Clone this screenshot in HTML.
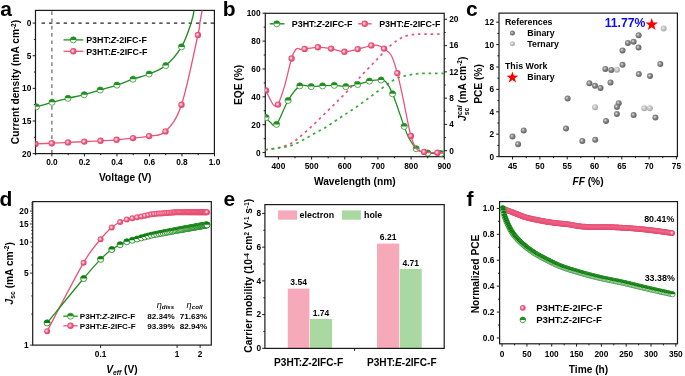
<!DOCTYPE html><html><head><meta charset="utf-8"><style>html,body{margin:0;padding:0;background:#fff;overflow:hidden}svg{display:block;will-change:transform}text{font-family:"Liberation Sans", sans-serif}</style></head><body>
<svg width="685" height="376" viewBox="0 0 685 376">
<defs><radialGradient id="pg" cx="0.42" cy="0.45" r="0.55"><stop offset="0" stop-color="#fff0f4"/><stop offset="0.25" stop-color="#f6b3c4"/><stop offset="0.6" stop-color="#ea5479"/><stop offset="1" stop-color="#e6486f"/></radialGradient><radialGradient id="gd" cx="0.4" cy="0.4" r="0.62"><stop offset="0" stop-color="#e6e6e6"/><stop offset="0.4" stop-color="#8c8c8c"/><stop offset="1" stop-color="#5e5e5e"/></radialGradient><radialGradient id="gl" cx="0.4" cy="0.4" r="0.62"><stop offset="0" stop-color="#f0f0f0"/><stop offset="0.45" stop-color="#c6c6c6"/><stop offset="1" stop-color="#a8a8a8"/></radialGradient></defs>
<rect width="685" height="376" fill="#fff"/>
<text x="0.3" y="16" font-size="21" text-anchor="start" font-weight="bold" fill="#000">a</text>
<text x="222.8" y="15.7" font-size="21" text-anchor="start" font-weight="bold" fill="#000">b</text>
<text x="466" y="16.3" font-size="21" text-anchor="start" font-weight="bold" fill="#000">c</text>
<text x="-0.6" y="205.7" font-size="21" text-anchor="start" font-weight="bold" fill="#000">d</text>
<text x="223.6" y="206" font-size="21" text-anchor="start" font-weight="bold" fill="#000">e</text>
<text x="466.4" y="205.7" font-size="21" text-anchor="start" font-weight="bold" fill="#000">f</text>
<line x1="41.6" y1="23.1" x2="214.4" y2="23.1" stroke="#222" stroke-width="1.15" stroke-dasharray="3.4,3.95" stroke-linecap="butt"/>
<line x1="51.9" y1="11.2" x2="51.9" y2="153.6" stroke="#666" stroke-width="1.2" stroke-dasharray="3.7,3.6" stroke-linecap="butt"/>
<line x1="32.7" y1="23.1" x2="35.5" y2="23.1" stroke="#1a1a1a" stroke-width="1.0" stroke-linecap="butt"/>
<text x="31.3" y="26" font-size="8.3" text-anchor="end" font-weight="bold" fill="#000">0</text>
<line x1="33.9" y1="39.41" x2="35.5" y2="39.41" stroke="#1a1a1a" stroke-width="1.0" stroke-linecap="butt"/>
<line x1="32.7" y1="55.73" x2="35.5" y2="55.73" stroke="#1a1a1a" stroke-width="1.0" stroke-linecap="butt"/>
<text x="31.3" y="58.62" font-size="8.3" text-anchor="end" font-weight="bold" fill="#000">5</text>
<line x1="33.9" y1="72.04" x2="35.5" y2="72.04" stroke="#1a1a1a" stroke-width="1.0" stroke-linecap="butt"/>
<line x1="32.7" y1="88.35" x2="35.5" y2="88.35" stroke="#1a1a1a" stroke-width="1.0" stroke-linecap="butt"/>
<text x="31.3" y="91.25" font-size="8.3" text-anchor="end" font-weight="bold" fill="#000">10</text>
<line x1="33.9" y1="104.66" x2="35.5" y2="104.66" stroke="#1a1a1a" stroke-width="1.0" stroke-linecap="butt"/>
<line x1="32.7" y1="120.97" x2="35.5" y2="120.97" stroke="#1a1a1a" stroke-width="1.0" stroke-linecap="butt"/>
<text x="31.3" y="123.88" font-size="8.3" text-anchor="end" font-weight="bold" fill="#000">15</text>
<line x1="33.9" y1="137.29" x2="35.5" y2="137.29" stroke="#1a1a1a" stroke-width="1.0" stroke-linecap="butt"/>
<line x1="32.7" y1="153.6" x2="35.5" y2="153.6" stroke="#1a1a1a" stroke-width="1.0" stroke-linecap="butt"/>
<text x="31.3" y="156.5" font-size="8.3" text-anchor="end" font-weight="bold" fill="#000">20</text>
<line x1="35.64" y1="153.6" x2="35.64" y2="155.2" stroke="#1a1a1a" stroke-width="1.0" stroke-linecap="butt"/>
<line x1="51.9" y1="153.6" x2="51.9" y2="156.4" stroke="#1a1a1a" stroke-width="1.0" stroke-linecap="butt"/>
<text x="51.9" y="164.8" font-size="8.3" text-anchor="middle" font-weight="bold" fill="#000">0.0</text>
<line x1="68.16" y1="153.6" x2="68.16" y2="155.2" stroke="#1a1a1a" stroke-width="1.0" stroke-linecap="butt"/>
<line x1="84.42" y1="153.6" x2="84.42" y2="156.4" stroke="#1a1a1a" stroke-width="1.0" stroke-linecap="butt"/>
<text x="84.42" y="164.8" font-size="8.3" text-anchor="middle" font-weight="bold" fill="#000">0.2</text>
<line x1="100.68" y1="153.6" x2="100.68" y2="155.2" stroke="#1a1a1a" stroke-width="1.0" stroke-linecap="butt"/>
<line x1="116.94" y1="153.6" x2="116.94" y2="156.4" stroke="#1a1a1a" stroke-width="1.0" stroke-linecap="butt"/>
<text x="116.94" y="164.8" font-size="8.3" text-anchor="middle" font-weight="bold" fill="#000">0.4</text>
<line x1="133.2" y1="153.6" x2="133.2" y2="155.2" stroke="#1a1a1a" stroke-width="1.0" stroke-linecap="butt"/>
<line x1="149.46" y1="153.6" x2="149.46" y2="156.4" stroke="#1a1a1a" stroke-width="1.0" stroke-linecap="butt"/>
<text x="149.46" y="164.8" font-size="8.3" text-anchor="middle" font-weight="bold" fill="#000">0.6</text>
<line x1="165.72" y1="153.6" x2="165.72" y2="155.2" stroke="#1a1a1a" stroke-width="1.0" stroke-linecap="butt"/>
<line x1="181.98" y1="153.6" x2="181.98" y2="156.4" stroke="#1a1a1a" stroke-width="1.0" stroke-linecap="butt"/>
<text x="181.98" y="164.8" font-size="8.3" text-anchor="middle" font-weight="bold" fill="#000">0.8</text>
<line x1="198.24" y1="153.6" x2="198.24" y2="155.2" stroke="#1a1a1a" stroke-width="1.0" stroke-linecap="butt"/>
<line x1="214.5" y1="153.6" x2="214.5" y2="156.4" stroke="#1a1a1a" stroke-width="1.0" stroke-linecap="butt"/>
<text x="214.5" y="164.8" font-size="8.3" text-anchor="middle" font-weight="bold" fill="#000">1.0</text>
<rect x="35.5" y="10.4" width="178.9" height="143.2" fill="none" stroke="#1a1a1a" stroke-width="1.2"/>
<text x="125.3" y="180.6" font-size="10.2" text-anchor="middle" font-weight="bold" fill="#000">Voltage (V)</text>
<text x="19.3" y="82" font-size="10.2" text-anchor="middle" font-weight="bold" fill="#000" transform="rotate(-90 19.3 82)">Current density (mA cm<tspan dy="-3.5" font-size="6.5">-2</tspan><tspan dy="3.5">)</tspan></text>
<clipPath id="ca"><rect x="35.5" y="10.4" width="178.9" height="143.2"/></clipPath><g clip-path="url(#ca)">
<path d="M36.4,106.8 C39,106.05 46.73,103.72 52,102.3 C57.27,100.88 62.63,99.57 68,98.3 C73.37,97.03 78.83,96.08 84.2,94.7 C89.57,93.32 94.75,91.6 100.2,90 C105.65,88.4 111.43,86.9 116.9,85.1 C122.37,83.3 127.63,81.05 133,79.2 C138.37,77.35 143.65,76.27 149.1,74 C154.55,71.73 160.3,70.12 165.7,65.6 C171.1,61.08 177.27,53.98 181.5,46.9 C185.73,39.82 188.92,29.58 191.1,23.1 C193.28,16.62 194.02,10.52 194.6,8" fill="none" stroke="#1f8f1f" stroke-width="1.35" stroke-linecap="butt" stroke-linejoin="round"/>
<path d="M35.5,143.9 C38.22,143.78 46.38,143.45 51.8,143.2 C57.22,142.95 62.58,142.67 68,142.4 C73.42,142.13 78.88,141.87 84.3,141.6 C89.72,141.33 95.12,141.1 100.5,140.8 C105.88,140.5 111.18,140.25 116.6,139.8 C122.02,139.35 127.58,138.72 133,138.1 C138.42,137.48 143.68,137.22 149.1,136.1 C154.52,134.98 160.1,136.63 165.5,131.4 C170.9,126.17 176.1,120.77 181.5,104.7 C186.9,88.63 194.85,48.6 197.9,35 C200.95,21.4 199.02,27.6 199.8,23.1 C200.58,18.6 202.13,10.52 202.6,8" fill="none" stroke="#e9557a" stroke-width="1.35" stroke-linecap="butt" stroke-linejoin="round"/>
<circle cx="36.4" cy="106.8" r="3.05" fill="#fff" stroke="#1f8f1f" stroke-width="0.75"/>
<path d="M33.35,106.8 A3.05,3.05 0 0 1 39.45,106.8 Z" fill="#1f8f1f"/>
<circle cx="52" cy="102.3" r="3.05" fill="#fff" stroke="#1f8f1f" stroke-width="0.75"/>
<path d="M48.95,102.3 A3.05,3.05 0 0 1 55.05,102.3 Z" fill="#1f8f1f"/>
<circle cx="68" cy="98.3" r="3.05" fill="#fff" stroke="#1f8f1f" stroke-width="0.75"/>
<path d="M64.95,98.3 A3.05,3.05 0 0 1 71.05,98.3 Z" fill="#1f8f1f"/>
<circle cx="84.2" cy="94.7" r="3.05" fill="#fff" stroke="#1f8f1f" stroke-width="0.75"/>
<path d="M81.15,94.7 A3.05,3.05 0 0 1 87.25,94.7 Z" fill="#1f8f1f"/>
<circle cx="100.2" cy="90" r="3.05" fill="#fff" stroke="#1f8f1f" stroke-width="0.75"/>
<path d="M97.15,90 A3.05,3.05 0 0 1 103.25,90 Z" fill="#1f8f1f"/>
<circle cx="116.9" cy="85.1" r="3.05" fill="#fff" stroke="#1f8f1f" stroke-width="0.75"/>
<path d="M113.85,85.1 A3.05,3.05 0 0 1 119.95,85.1 Z" fill="#1f8f1f"/>
<circle cx="133" cy="79.2" r="3.05" fill="#fff" stroke="#1f8f1f" stroke-width="0.75"/>
<path d="M129.95,79.2 A3.05,3.05 0 0 1 136.05,79.2 Z" fill="#1f8f1f"/>
<circle cx="149.1" cy="74" r="3.05" fill="#fff" stroke="#1f8f1f" stroke-width="0.75"/>
<path d="M146.05,74 A3.05,3.05 0 0 1 152.15,74 Z" fill="#1f8f1f"/>
<circle cx="165.7" cy="65.6" r="3.05" fill="#fff" stroke="#1f8f1f" stroke-width="0.75"/>
<path d="M162.65,65.6 A3.05,3.05 0 0 1 168.75,65.6 Z" fill="#1f8f1f"/>
<circle cx="181.5" cy="46.9" r="3.05" fill="#fff" stroke="#1f8f1f" stroke-width="0.75"/>
<path d="M178.45,46.9 A3.05,3.05 0 0 1 184.55,46.9 Z" fill="#1f8f1f"/>
<circle cx="35.5" cy="143.9" r="3.2" fill="url(#pg)"/>
<circle cx="51.8" cy="143.2" r="3.2" fill="url(#pg)"/>
<circle cx="68" cy="142.4" r="3.2" fill="url(#pg)"/>
<circle cx="84.3" cy="141.6" r="3.2" fill="url(#pg)"/>
<circle cx="100.5" cy="140.8" r="3.2" fill="url(#pg)"/>
<circle cx="116.6" cy="139.8" r="3.2" fill="url(#pg)"/>
<circle cx="133" cy="138.1" r="3.2" fill="url(#pg)"/>
<circle cx="149.1" cy="136.1" r="3.2" fill="url(#pg)"/>
<circle cx="165.5" cy="131.4" r="3.2" fill="url(#pg)"/>
<circle cx="181.5" cy="104.7" r="3.2" fill="url(#pg)"/>
<circle cx="197.9" cy="35" r="3.2" fill="url(#pg)"/>
</g>
<line x1="63.5" y1="39.9" x2="83.3" y2="39.9" stroke="#1f8f1f" stroke-width="1.3" stroke-linecap="butt"/>
<circle cx="73.3" cy="39.9" r="3.05" fill="#fff" stroke="#1f8f1f" stroke-width="0.75"/>
<path d="M70.25,39.9 A3.05,3.05 0 0 1 76.35,39.9 Z" fill="#1f8f1f"/>
<line x1="63.5" y1="51.3" x2="83.3" y2="51.3" stroke="#e9557a" stroke-width="1.3" stroke-linecap="butt"/>
<circle cx="73.3" cy="51.3" r="3.2" fill="url(#pg)"/>
<text x="86.2" y="43.1" font-size="8.9" text-anchor="start" font-weight="bold" fill="#000">P3HT:<tspan font-style="italic">Z</tspan>-2IFC-F</text>
<text x="86.2" y="54.5" font-size="8.9" text-anchor="start" font-weight="bold" fill="#000">P3HT:<tspan font-style="italic">E</tspan>-2IFC-F</text>
<line x1="262.5" y1="152.6" x2="265.3" y2="152.6" stroke="#1a1a1a" stroke-width="1.0" stroke-linecap="butt"/>
<text x="260.5" y="155.5" font-size="8.3" text-anchor="end" font-weight="bold" fill="#000">0</text>
<line x1="263.7" y1="138.66" x2="265.3" y2="138.66" stroke="#1a1a1a" stroke-width="1.0" stroke-linecap="butt"/>
<line x1="262.5" y1="124.72" x2="265.3" y2="124.72" stroke="#1a1a1a" stroke-width="1.0" stroke-linecap="butt"/>
<text x="260.5" y="127.62" font-size="8.3" text-anchor="end" font-weight="bold" fill="#000">20</text>
<line x1="263.7" y1="110.78" x2="265.3" y2="110.78" stroke="#1a1a1a" stroke-width="1.0" stroke-linecap="butt"/>
<line x1="262.5" y1="96.84" x2="265.3" y2="96.84" stroke="#1a1a1a" stroke-width="1.0" stroke-linecap="butt"/>
<text x="260.5" y="99.74" font-size="8.3" text-anchor="end" font-weight="bold" fill="#000">40</text>
<line x1="263.7" y1="82.9" x2="265.3" y2="82.9" stroke="#1a1a1a" stroke-width="1.0" stroke-linecap="butt"/>
<line x1="262.5" y1="68.96" x2="265.3" y2="68.96" stroke="#1a1a1a" stroke-width="1.0" stroke-linecap="butt"/>
<text x="260.5" y="71.86" font-size="8.3" text-anchor="end" font-weight="bold" fill="#000">60</text>
<line x1="263.7" y1="55.02" x2="265.3" y2="55.02" stroke="#1a1a1a" stroke-width="1.0" stroke-linecap="butt"/>
<line x1="262.5" y1="41.08" x2="265.3" y2="41.08" stroke="#1a1a1a" stroke-width="1.0" stroke-linecap="butt"/>
<text x="260.5" y="43.98" font-size="8.3" text-anchor="end" font-weight="bold" fill="#000">80</text>
<line x1="263.7" y1="27.14" x2="265.3" y2="27.14" stroke="#1a1a1a" stroke-width="1.0" stroke-linecap="butt"/>
<line x1="262.5" y1="13.2" x2="265.3" y2="13.2" stroke="#1a1a1a" stroke-width="1.0" stroke-linecap="butt"/>
<text x="260.5" y="16.1" font-size="8.3" text-anchor="end" font-weight="bold" fill="#000">100</text>
<line x1="444.2" y1="150.7" x2="447" y2="150.7" stroke="#1a1a1a" stroke-width="1.0" stroke-linecap="butt"/>
<text x="449.2" y="153.6" font-size="8.3" text-anchor="start" font-weight="bold" fill="#000">0</text>
<line x1="444.2" y1="137.56" x2="445.8" y2="137.56" stroke="#1a1a1a" stroke-width="1.0" stroke-linecap="butt"/>
<line x1="444.2" y1="124.42" x2="447" y2="124.42" stroke="#1a1a1a" stroke-width="1.0" stroke-linecap="butt"/>
<text x="449.2" y="127.32" font-size="8.3" text-anchor="start" font-weight="bold" fill="#000">4</text>
<line x1="444.2" y1="111.28" x2="445.8" y2="111.28" stroke="#1a1a1a" stroke-width="1.0" stroke-linecap="butt"/>
<line x1="444.2" y1="98.14" x2="447" y2="98.14" stroke="#1a1a1a" stroke-width="1.0" stroke-linecap="butt"/>
<text x="449.2" y="101.04" font-size="8.3" text-anchor="start" font-weight="bold" fill="#000">8</text>
<line x1="444.2" y1="85" x2="445.8" y2="85" stroke="#1a1a1a" stroke-width="1.0" stroke-linecap="butt"/>
<line x1="444.2" y1="71.86" x2="447" y2="71.86" stroke="#1a1a1a" stroke-width="1.0" stroke-linecap="butt"/>
<text x="449.2" y="74.76" font-size="8.3" text-anchor="start" font-weight="bold" fill="#000">12</text>
<line x1="444.2" y1="58.72" x2="445.8" y2="58.72" stroke="#1a1a1a" stroke-width="1.0" stroke-linecap="butt"/>
<line x1="444.2" y1="45.58" x2="447" y2="45.58" stroke="#1a1a1a" stroke-width="1.0" stroke-linecap="butt"/>
<text x="449.2" y="48.48" font-size="8.3" text-anchor="start" font-weight="bold" fill="#000">16</text>
<line x1="444.2" y1="32.44" x2="445.8" y2="32.44" stroke="#1a1a1a" stroke-width="1.0" stroke-linecap="butt"/>
<line x1="444.2" y1="19.3" x2="447" y2="19.3" stroke="#1a1a1a" stroke-width="1.0" stroke-linecap="butt"/>
<text x="449.2" y="22.2" font-size="8.3" text-anchor="start" font-weight="bold" fill="#000">20</text>
<line x1="278.4" y1="156.7" x2="278.4" y2="159.5" stroke="#1a1a1a" stroke-width="1.0" stroke-linecap="butt"/>
<text x="278.4" y="168.5" font-size="8.3" text-anchor="middle" font-weight="bold" fill="#000">400</text>
<line x1="294.99" y1="156.7" x2="294.99" y2="158.3" stroke="#1a1a1a" stroke-width="1.0" stroke-linecap="butt"/>
<line x1="311.58" y1="156.7" x2="311.58" y2="159.5" stroke="#1a1a1a" stroke-width="1.0" stroke-linecap="butt"/>
<text x="311.58" y="168.5" font-size="8.3" text-anchor="middle" font-weight="bold" fill="#000">500</text>
<line x1="328.17" y1="156.7" x2="328.17" y2="158.3" stroke="#1a1a1a" stroke-width="1.0" stroke-linecap="butt"/>
<line x1="344.76" y1="156.7" x2="344.76" y2="159.5" stroke="#1a1a1a" stroke-width="1.0" stroke-linecap="butt"/>
<text x="344.76" y="168.5" font-size="8.3" text-anchor="middle" font-weight="bold" fill="#000">600</text>
<line x1="361.35" y1="156.7" x2="361.35" y2="158.3" stroke="#1a1a1a" stroke-width="1.0" stroke-linecap="butt"/>
<line x1="377.94" y1="156.7" x2="377.94" y2="159.5" stroke="#1a1a1a" stroke-width="1.0" stroke-linecap="butt"/>
<text x="377.94" y="168.5" font-size="8.3" text-anchor="middle" font-weight="bold" fill="#000">700</text>
<line x1="394.53" y1="156.7" x2="394.53" y2="158.3" stroke="#1a1a1a" stroke-width="1.0" stroke-linecap="butt"/>
<line x1="411.12" y1="156.7" x2="411.12" y2="159.5" stroke="#1a1a1a" stroke-width="1.0" stroke-linecap="butt"/>
<text x="411.12" y="168.5" font-size="8.3" text-anchor="middle" font-weight="bold" fill="#000">800</text>
<line x1="427.71" y1="156.7" x2="427.71" y2="158.3" stroke="#1a1a1a" stroke-width="1.0" stroke-linecap="butt"/>
<line x1="444.3" y1="156.7" x2="444.3" y2="159.5" stroke="#1a1a1a" stroke-width="1.0" stroke-linecap="butt"/>
<text x="444.3" y="168.5" font-size="8.3" text-anchor="middle" font-weight="bold" fill="#000">900</text>
<rect x="265.3" y="13.3" width="178.9" height="143.4" fill="none" stroke="#1a1a1a" stroke-width="1.2"/>
<text x="354.8" y="184.8" font-size="10.2" text-anchor="middle" font-weight="bold" fill="#000">Wavelength (nm)</text>
<text x="242.4" y="84.9" font-size="10.2" text-anchor="middle" font-weight="bold" fill="#000" transform="rotate(-90 242.4 84.9)">EQE (%)</text>
<clipPath id="cb"><rect x="265.3" y="13.3" width="178.9" height="143.4"/></clipPath><g clip-path="url(#cb)">
<path d="M265.3,149.8 C267.42,149.47 273.75,148.83 278,147.8 C282.25,146.77 287.02,145.55 290.8,143.6 C294.58,141.65 297.45,138.75 300.7,136.1 C303.95,133.45 307.17,130.57 310.3,127.7 C313.43,124.83 316.42,121.88 319.5,118.9 C322.58,115.92 325.75,112.8 328.8,109.8 C331.85,106.8 334.82,103.9 337.8,100.9 C340.78,97.9 343.75,94.92 346.7,91.8 C349.65,88.68 352.58,85.38 355.5,82.2 C358.42,79.02 360.77,76.35 364.2,72.7 C367.63,69.05 371.62,64.93 376.1,60.3 C380.58,55.67 386.83,48.65 391.1,44.9 C395.37,41.15 398.87,39.38 401.7,37.8 C404.53,36.22 405.97,35.98 408.1,35.4 C410.23,34.82 412.37,34.52 414.5,34.3 C416.63,34.08 415.82,34.15 420.9,34.1 C425.98,34.05 440.98,34.02 445,34" fill="none" stroke="#e9557a" stroke-width="1.7" stroke-dasharray="2.6,3.75" stroke-linecap="butt" stroke-linejoin="round"/>
<path d="M265.3,149.8 C267.42,149.5 273.75,148.68 278,148 C282.25,147.32 286.67,147.02 290.8,145.7 C294.93,144.38 298.95,142.08 302.8,140.1 C306.65,138.12 310.18,135.87 313.9,133.8 C317.62,131.73 321.43,129.92 325.1,127.7 C328.77,125.48 332.35,122.85 335.9,120.5 C339.45,118.15 342.93,115.88 346.4,113.6 C349.87,111.32 353.2,109.23 356.7,106.8 C360.2,104.37 363.88,101.58 367.4,99 C370.92,96.42 374.33,93.83 377.8,91.3 C381.27,88.77 385.53,85.68 388.2,83.8 C390.87,81.92 391.8,81.17 393.8,80 C395.8,78.83 398.22,77.52 400.2,76.8 C402.18,76.08 403.72,76.1 405.7,75.7 C407.68,75.3 409.97,74.75 412.1,74.4 C414.23,74.05 415.52,73.77 418.5,73.6 C421.48,73.43 425.58,73.43 430,73.4 C434.42,73.37 442.5,73.4 445,73.4" fill="none" stroke="#3aa83a" stroke-width="1.7" stroke-dasharray="2.6,3.75" stroke-linecap="butt" stroke-linejoin="round"/>
<path d="M265.4,117.5 C266.17,118.25 268.13,120.85 270,122 C271.87,123.15 273.58,127.98 276.6,124.4 C279.62,120.82 284.23,106.92 288.1,100.5 C291.97,94.08 295.95,88.22 299.8,85.9 C303.65,83.58 307.4,86.6 311.2,86.6 C315,86.6 318.75,86.12 322.6,85.9 C326.45,85.68 330.43,85.18 334.3,85.3 C338.17,85.42 341.9,86.73 345.8,86.6 C349.7,86.47 353.77,85.42 357.7,84.5 C361.63,83.58 365.5,81.85 369.4,81.1 C373.3,80.35 378.35,79.87 381.1,80 C383.85,80.13 383.98,79.6 385.9,81.9 C387.82,84.2 389.55,86.38 392.6,93.8 C395.65,101.22 401.47,118.98 404.2,126.4 C406.93,133.82 407,134.58 409,138.3 C411,142.02 414.2,146.5 416.2,148.7 C418.2,150.9 419.07,150.78 421,151.5 C422.93,152.22 424.48,152.67 427.8,153 C431.12,153.33 438.03,153.42 440.9,153.5 C443.77,153.58 444.32,153.5 445,153.5" fill="none" stroke="#1f8f1f" stroke-width="1.3" stroke-linecap="butt" stroke-linejoin="round"/>
<circle cx="266" cy="117.5" r="3.05" fill="#fff" stroke="#1f8f1f" stroke-width="0.75"/>
<path d="M262.95,117.5 A3.05,3.05 0 0 1 269.05,117.5 Z" fill="#1f8f1f"/>
<circle cx="276.6" cy="124.4" r="3.05" fill="#fff" stroke="#1f8f1f" stroke-width="0.75"/>
<path d="M273.55,124.4 A3.05,3.05 0 0 1 279.65,124.4 Z" fill="#1f8f1f"/>
<circle cx="288.1" cy="100.5" r="3.05" fill="#fff" stroke="#1f8f1f" stroke-width="0.75"/>
<path d="M285.05,100.5 A3.05,3.05 0 0 1 291.15,100.5 Z" fill="#1f8f1f"/>
<circle cx="299.8" cy="85.9" r="3.05" fill="#fff" stroke="#1f8f1f" stroke-width="0.75"/>
<path d="M296.75,85.9 A3.05,3.05 0 0 1 302.85,85.9 Z" fill="#1f8f1f"/>
<circle cx="311.2" cy="86.6" r="3.05" fill="#fff" stroke="#1f8f1f" stroke-width="0.75"/>
<path d="M308.15,86.6 A3.05,3.05 0 0 1 314.25,86.6 Z" fill="#1f8f1f"/>
<circle cx="322.6" cy="85.9" r="3.05" fill="#fff" stroke="#1f8f1f" stroke-width="0.75"/>
<path d="M319.55,85.9 A3.05,3.05 0 0 1 325.65,85.9 Z" fill="#1f8f1f"/>
<circle cx="334.3" cy="85.3" r="3.05" fill="#fff" stroke="#1f8f1f" stroke-width="0.75"/>
<path d="M331.25,85.3 A3.05,3.05 0 0 1 337.35,85.3 Z" fill="#1f8f1f"/>
<circle cx="345.8" cy="86.6" r="3.05" fill="#fff" stroke="#1f8f1f" stroke-width="0.75"/>
<path d="M342.75,86.6 A3.05,3.05 0 0 1 348.85,86.6 Z" fill="#1f8f1f"/>
<circle cx="357.7" cy="84.5" r="3.05" fill="#fff" stroke="#1f8f1f" stroke-width="0.75"/>
<path d="M354.65,84.5 A3.05,3.05 0 0 1 360.75,84.5 Z" fill="#1f8f1f"/>
<circle cx="369.4" cy="81.1" r="3.05" fill="#fff" stroke="#1f8f1f" stroke-width="0.75"/>
<path d="M366.35,81.1 A3.05,3.05 0 0 1 372.45,81.1 Z" fill="#1f8f1f"/>
<circle cx="381.1" cy="80" r="3.05" fill="#fff" stroke="#1f8f1f" stroke-width="0.75"/>
<path d="M378.05,80 A3.05,3.05 0 0 1 384.15,80 Z" fill="#1f8f1f"/>
<circle cx="392.6" cy="93.8" r="3.05" fill="#fff" stroke="#1f8f1f" stroke-width="0.75"/>
<path d="M389.55,93.8 A3.05,3.05 0 0 1 395.65,93.8 Z" fill="#1f8f1f"/>
<circle cx="404.2" cy="126.4" r="3.05" fill="#fff" stroke="#1f8f1f" stroke-width="0.75"/>
<path d="M401.15,126.4 A3.05,3.05 0 0 1 407.25,126.4 Z" fill="#1f8f1f"/>
<circle cx="416.2" cy="148.7" r="3.05" fill="#fff" stroke="#1f8f1f" stroke-width="0.75"/>
<path d="M413.15,148.7 A3.05,3.05 0 0 1 419.25,148.7 Z" fill="#1f8f1f"/>
<circle cx="427.8" cy="153" r="3.05" fill="#fff" stroke="#1f8f1f" stroke-width="0.75"/>
<path d="M424.75,153 A3.05,3.05 0 0 1 430.85,153 Z" fill="#1f8f1f"/>
<circle cx="440.9" cy="153.5" r="3.05" fill="#fff" stroke="#1f8f1f" stroke-width="0.75"/>
<path d="M437.85,153.5 A3.05,3.05 0 0 1 443.95,153.5 Z" fill="#1f8f1f"/>
<path d="M265.4,89.8 C266.17,91.33 268.57,96.38 270,99 C271.43,101.62 272.67,104.58 274,105.5 C275.33,106.42 276.23,107.77 278,104.5 C279.77,101.23 282.33,93.57 284.6,85.9 C286.87,78.23 289.63,64.68 291.6,58.5 C293.57,52.32 294.88,50.32 296.4,48.8 C297.92,47.28 299.33,49.38 300.7,49.4 C302.07,49.42 301.73,49.25 304.6,48.9 C307.47,48.55 313.48,47.35 317.9,47.3 C322.32,47.25 326.68,47.85 331.1,48.6 C335.52,49.35 339.97,51.72 344.4,51.8 C348.83,51.88 353.22,50.13 357.7,49.1 C362.18,48.07 367.93,46.23 371.3,45.6 C374.67,44.97 375.78,44.8 377.9,45.3 C380.02,45.8 381.78,46.93 384,48.6 C386.22,50.27 388.98,51.22 391.2,55.3 C393.42,59.38 395.3,65.8 397.3,73.1 C399.3,80.4 400.93,88.63 403.2,99.1 C405.47,109.57 408.6,127.53 410.9,135.9 C413.2,144.27 414.8,146.63 417,149.3 C419.2,151.97 420.7,151.33 424.1,151.9 C427.5,152.47 433.92,152.57 437.4,152.7 C440.88,152.83 443.73,152.7 445,152.7" fill="none" stroke="#e9557a" stroke-width="1.3" stroke-linecap="butt" stroke-linejoin="round"/>
<circle cx="266" cy="90.4" r="3.2" fill="url(#pg)"/>
<circle cx="278" cy="104.6" r="3.2" fill="url(#pg)"/>
<circle cx="291.6" cy="58.5" r="3.2" fill="url(#pg)"/>
<circle cx="304.6" cy="48.9" r="3.2" fill="url(#pg)"/>
<circle cx="317.9" cy="47.3" r="3.2" fill="url(#pg)"/>
<circle cx="331.1" cy="48.6" r="3.2" fill="url(#pg)"/>
<circle cx="344.4" cy="51.8" r="3.2" fill="url(#pg)"/>
<circle cx="357.7" cy="49.1" r="3.2" fill="url(#pg)"/>
<circle cx="371.3" cy="45.4" r="3.2" fill="url(#pg)"/>
<circle cx="384" cy="48.6" r="3.2" fill="url(#pg)"/>
<circle cx="397.3" cy="73.1" r="3.2" fill="url(#pg)"/>
<circle cx="410.9" cy="135.9" r="3.2" fill="url(#pg)"/>
<circle cx="424.1" cy="151.9" r="3.2" fill="url(#pg)"/>
<circle cx="437.4" cy="152.7" r="3.2" fill="url(#pg)"/>
</g>
<line x1="269.7" y1="23.8" x2="274.3" y2="23.8" stroke="#1f8f1f" stroke-width="1.4" stroke-linecap="butt"/>
<line x1="279.4" y1="23.8" x2="284.5" y2="23.8" stroke="#1f8f1f" stroke-width="1.4" stroke-linecap="butt"/>
<circle cx="276.8" cy="23.8" r="3.05" fill="#fff" stroke="#1f8f1f" stroke-width="0.75"/>
<path d="M273.75,23.8 A3.05,3.05 0 0 1 279.85,23.8 Z" fill="#1f8f1f"/>
<text x="291.8" y="27" font-size="8.9" text-anchor="start" font-weight="bold" fill="#000">P3HT:<tspan font-style="italic">Z</tspan>-2IFC-F</text>
<line x1="358.2" y1="23.8" x2="362.2" y2="23.8" stroke="#e9557a" stroke-width="1.4" stroke-linecap="butt"/>
<line x1="367.4" y1="23.8" x2="371.6" y2="23.8" stroke="#e9557a" stroke-width="1.4" stroke-linecap="butt"/>
<circle cx="364.8" cy="23.8" r="3.2" fill="url(#pg)"/>
<text x="379.2" y="27" font-size="8.9" text-anchor="start" font-weight="bold" fill="#000">P3HT:<tspan font-style="italic">E</tspan>-2IFC-F</text>
<g transform="rotate(-90 466 88.8)"><text x="466" y="88.8" font-size="10.2" font-weight="bold" text-anchor="middle"><tspan font-style="italic">J</tspan><tspan font-size="6.8" dy="3">sc</tspan><tspan font-size="6.8" dx="-7.2" dy="-7" font-style="italic">cal</tspan><tspan dy="4" dx="-0.3"> (mA cm</tspan><tspan font-size="6.5" dy="-3.5">-2</tspan><tspan dy="3.5">)</tspan></text></g>
<line x1="496.2" y1="156.6" x2="499" y2="156.6" stroke="#1a1a1a" stroke-width="1.0" stroke-linecap="butt"/>
<text x="494.1" y="159.5" font-size="8.3" text-anchor="end" font-weight="bold" fill="#000">0</text>
<line x1="497.4" y1="145.4" x2="499" y2="145.4" stroke="#1a1a1a" stroke-width="1.0" stroke-linecap="butt"/>
<line x1="496.2" y1="134.2" x2="499" y2="134.2" stroke="#1a1a1a" stroke-width="1.0" stroke-linecap="butt"/>
<text x="494.1" y="137.1" font-size="8.3" text-anchor="end" font-weight="bold" fill="#000">2</text>
<line x1="497.4" y1="123" x2="499" y2="123" stroke="#1a1a1a" stroke-width="1.0" stroke-linecap="butt"/>
<line x1="496.2" y1="111.8" x2="499" y2="111.8" stroke="#1a1a1a" stroke-width="1.0" stroke-linecap="butt"/>
<text x="494.1" y="114.7" font-size="8.3" text-anchor="end" font-weight="bold" fill="#000">4</text>
<line x1="497.4" y1="100.6" x2="499" y2="100.6" stroke="#1a1a1a" stroke-width="1.0" stroke-linecap="butt"/>
<line x1="496.2" y1="89.4" x2="499" y2="89.4" stroke="#1a1a1a" stroke-width="1.0" stroke-linecap="butt"/>
<text x="494.1" y="92.3" font-size="8.3" text-anchor="end" font-weight="bold" fill="#000">6</text>
<line x1="497.4" y1="78.2" x2="499" y2="78.2" stroke="#1a1a1a" stroke-width="1.0" stroke-linecap="butt"/>
<line x1="496.2" y1="67" x2="499" y2="67" stroke="#1a1a1a" stroke-width="1.0" stroke-linecap="butt"/>
<text x="494.1" y="69.9" font-size="8.3" text-anchor="end" font-weight="bold" fill="#000">8</text>
<line x1="497.4" y1="55.8" x2="499" y2="55.8" stroke="#1a1a1a" stroke-width="1.0" stroke-linecap="butt"/>
<line x1="496.2" y1="44.6" x2="499" y2="44.6" stroke="#1a1a1a" stroke-width="1.0" stroke-linecap="butt"/>
<text x="494.1" y="47.5" font-size="8.3" text-anchor="end" font-weight="bold" fill="#000">10</text>
<line x1="497.4" y1="33.4" x2="499" y2="33.4" stroke="#1a1a1a" stroke-width="1.0" stroke-linecap="butt"/>
<line x1="496.2" y1="22.2" x2="499" y2="22.2" stroke="#1a1a1a" stroke-width="1.0" stroke-linecap="butt"/>
<text x="494.1" y="25.1" font-size="8.3" text-anchor="end" font-weight="bold" fill="#000">12</text>
<line x1="512.6" y1="156.6" x2="512.6" y2="159.4" stroke="#1a1a1a" stroke-width="1.0" stroke-linecap="butt"/>
<text x="512.6" y="168.9" font-size="8.3" text-anchor="middle" font-weight="bold" fill="#000">45</text>
<line x1="526.25" y1="156.6" x2="526.25" y2="158.2" stroke="#1a1a1a" stroke-width="1.0" stroke-linecap="butt"/>
<line x1="539.9" y1="156.6" x2="539.9" y2="159.4" stroke="#1a1a1a" stroke-width="1.0" stroke-linecap="butt"/>
<text x="539.9" y="168.9" font-size="8.3" text-anchor="middle" font-weight="bold" fill="#000">50</text>
<line x1="553.55" y1="156.6" x2="553.55" y2="158.2" stroke="#1a1a1a" stroke-width="1.0" stroke-linecap="butt"/>
<line x1="567.2" y1="156.6" x2="567.2" y2="159.4" stroke="#1a1a1a" stroke-width="1.0" stroke-linecap="butt"/>
<text x="567.2" y="168.9" font-size="8.3" text-anchor="middle" font-weight="bold" fill="#000">55</text>
<line x1="580.85" y1="156.6" x2="580.85" y2="158.2" stroke="#1a1a1a" stroke-width="1.0" stroke-linecap="butt"/>
<line x1="594.5" y1="156.6" x2="594.5" y2="159.4" stroke="#1a1a1a" stroke-width="1.0" stroke-linecap="butt"/>
<text x="594.5" y="168.9" font-size="8.3" text-anchor="middle" font-weight="bold" fill="#000">60</text>
<line x1="608.15" y1="156.6" x2="608.15" y2="158.2" stroke="#1a1a1a" stroke-width="1.0" stroke-linecap="butt"/>
<line x1="621.8" y1="156.6" x2="621.8" y2="159.4" stroke="#1a1a1a" stroke-width="1.0" stroke-linecap="butt"/>
<text x="621.8" y="168.9" font-size="8.3" text-anchor="middle" font-weight="bold" fill="#000">65</text>
<line x1="635.45" y1="156.6" x2="635.45" y2="158.2" stroke="#1a1a1a" stroke-width="1.0" stroke-linecap="butt"/>
<line x1="649.1" y1="156.6" x2="649.1" y2="159.4" stroke="#1a1a1a" stroke-width="1.0" stroke-linecap="butt"/>
<text x="649.1" y="168.9" font-size="8.3" text-anchor="middle" font-weight="bold" fill="#000">70</text>
<line x1="662.75" y1="156.6" x2="662.75" y2="158.2" stroke="#1a1a1a" stroke-width="1.0" stroke-linecap="butt"/>
<line x1="676.4" y1="156.6" x2="676.4" y2="159.4" stroke="#1a1a1a" stroke-width="1.0" stroke-linecap="butt"/>
<text x="676.4" y="168.9" font-size="8.3" text-anchor="middle" font-weight="bold" fill="#000">75</text>
<rect x="499" y="13.1" width="178.4" height="143.5" fill="none" stroke="#1a1a1a" stroke-width="1.2"/>
<text x="588" y="184.6" font-size="10.2" text-anchor="middle" font-weight="bold" fill="#000"><tspan font-style="italic">FF</tspan> (%)</text>
<text x="481.5" y="84" font-size="10.2" text-anchor="middle" font-weight="bold" fill="#000" transform="rotate(-90 481.5 84)">PCE (%)</text>
<circle cx="663.7" cy="28.5" r="3" fill="url(#gl)"/>
<circle cx="617" cy="69.7" r="3" fill="url(#gl)"/>
<circle cx="595" cy="107.2" r="3" fill="url(#gl)"/>
<circle cx="644.3" cy="108.2" r="3" fill="url(#gl)"/>
<circle cx="649.9" cy="108.2" r="3" fill="url(#gl)"/>
<circle cx="512.5" cy="136.5" r="3" fill="url(#gd)"/>
<circle cx="518.1" cy="144.2" r="3" fill="url(#gd)"/>
<circle cx="523.7" cy="130.4" r="3" fill="url(#gd)"/>
<circle cx="566" cy="128.6" r="3" fill="url(#gd)"/>
<circle cx="567.6" cy="98.5" r="3" fill="url(#gd)"/>
<circle cx="582.3" cy="141" r="3" fill="url(#gd)"/>
<circle cx="595.2" cy="139.8" r="3" fill="url(#gd)"/>
<circle cx="589.4" cy="83.3" r="3" fill="url(#gd)"/>
<circle cx="595" cy="85.8" r="3" fill="url(#gd)"/>
<circle cx="600.5" cy="88" r="3" fill="url(#gd)"/>
<circle cx="610.5" cy="82.5" r="3" fill="url(#gd)"/>
<circle cx="605.3" cy="68.9" r="3" fill="url(#gd)"/>
<circle cx="611.3" cy="69.9" r="3" fill="url(#gd)"/>
<circle cx="622.5" cy="64.8" r="3" fill="url(#gd)"/>
<circle cx="622.5" cy="50.5" r="3" fill="url(#gd)"/>
<circle cx="627.9" cy="42.9" r="3" fill="url(#gd)"/>
<circle cx="633.6" cy="41.7" r="3" fill="url(#gd)"/>
<circle cx="638.6" cy="35.3" r="3" fill="url(#gd)"/>
<circle cx="638.5" cy="47.6" r="3" fill="url(#gd)"/>
<circle cx="638.8" cy="74.1" r="3" fill="url(#gd)"/>
<circle cx="660.3" cy="64.1" r="3" fill="url(#gd)"/>
<circle cx="650" cy="76.1" r="3" fill="url(#gd)"/>
<circle cx="618.7" cy="103.2" r="3" fill="url(#gd)"/>
<circle cx="616.9" cy="107" r="3" fill="url(#gd)"/>
<circle cx="616.9" cy="114" r="3" fill="url(#gd)"/>
<circle cx="633.6" cy="115.1" r="3" fill="url(#gd)"/>
<circle cx="655.4" cy="117.6" r="3" fill="url(#gd)"/>
<circle cx="606" cy="120.9" r="3" fill="url(#gd)"/>
<polygon points="651.7,18 653.25,22.46 657.98,22.56 654.21,25.42 655.58,29.94 651.7,27.24 647.82,29.94 649.19,25.42 645.42,22.56 650.15,22.46" fill="#f00"/>
<text x="604.7" y="27.2" font-size="12.2" text-anchor="start" font-weight="bold" fill="#0a0af2">11.77%</text>
<text x="505" y="24.7" font-size="8.8" text-anchor="start" font-weight="bold" fill="#000">References</text>
<circle cx="512.4" cy="33.1" r="2.5" fill="url(#gd)"/>
<circle cx="512.4" cy="43.8" r="2.5" fill="url(#gl)"/>
<text x="527.3" y="36" font-size="8.8" text-anchor="start" font-weight="bold" fill="#000">Binary</text>
<text x="527.3" y="46.7" font-size="8.8" text-anchor="start" font-weight="bold" fill="#000">Ternary</text>
<text x="505" y="68.9" font-size="8.8" text-anchor="start" font-weight="bold" fill="#000">This Work</text>
<polygon points="512.4,71.4 513.86,75.59 518.3,75.68 514.76,78.37 516.04,82.62 512.4,80.08 508.76,82.62 510.04,78.37 506.5,75.68 510.94,75.59" fill="#f00"/>
<text x="527.3" y="80.1" font-size="8.8" text-anchor="start" font-weight="bold" fill="#000">Binary</text>
<line x1="29.9" y1="345.1" x2="32.7" y2="345.1" stroke="#1a1a1a" stroke-width="0.9" stroke-linecap="butt"/>
<text x="28.6" y="348" font-size="8.3" text-anchor="end" font-weight="bold" fill="#000">1</text>
<line x1="31.2" y1="314.09" x2="32.7" y2="314.09" stroke="#1a1a1a" stroke-width="0.9" stroke-linecap="butt"/>
<line x1="31.2" y1="295.96" x2="32.7" y2="295.96" stroke="#1a1a1a" stroke-width="0.9" stroke-linecap="butt"/>
<line x1="31.2" y1="283.09" x2="32.7" y2="283.09" stroke="#1a1a1a" stroke-width="0.9" stroke-linecap="butt"/>
<line x1="29.9" y1="273.11" x2="32.7" y2="273.11" stroke="#1a1a1a" stroke-width="0.9" stroke-linecap="butt"/>
<text x="28.6" y="276.01" font-size="8.3" text-anchor="end" font-weight="bold" fill="#000">5</text>
<line x1="31.2" y1="264.95" x2="32.7" y2="264.95" stroke="#1a1a1a" stroke-width="0.9" stroke-linecap="butt"/>
<line x1="31.2" y1="258.05" x2="32.7" y2="258.05" stroke="#1a1a1a" stroke-width="0.9" stroke-linecap="butt"/>
<line x1="31.2" y1="252.08" x2="32.7" y2="252.08" stroke="#1a1a1a" stroke-width="0.9" stroke-linecap="butt"/>
<line x1="31.2" y1="246.81" x2="32.7" y2="246.81" stroke="#1a1a1a" stroke-width="0.9" stroke-linecap="butt"/>
<line x1="29.9" y1="242.1" x2="32.7" y2="242.1" stroke="#1a1a1a" stroke-width="0.9" stroke-linecap="butt"/>
<text x="28.6" y="245" font-size="8.3" text-anchor="end" font-weight="bold" fill="#000">10</text>
<line x1="31.2" y1="237.84" x2="32.7" y2="237.84" stroke="#1a1a1a" stroke-width="0.9" stroke-linecap="butt"/>
<line x1="31.2" y1="233.94" x2="32.7" y2="233.94" stroke="#1a1a1a" stroke-width="0.9" stroke-linecap="butt"/>
<line x1="31.2" y1="230.36" x2="32.7" y2="230.36" stroke="#1a1a1a" stroke-width="0.9" stroke-linecap="butt"/>
<line x1="31.2" y1="227.05" x2="32.7" y2="227.05" stroke="#1a1a1a" stroke-width="0.9" stroke-linecap="butt"/>
<line x1="29.9" y1="223.96" x2="32.7" y2="223.96" stroke="#1a1a1a" stroke-width="0.9" stroke-linecap="butt"/>
<text x="28.6" y="226.86" font-size="8.3" text-anchor="end" font-weight="bold" fill="#000">15</text>
<line x1="31.2" y1="221.08" x2="32.7" y2="221.08" stroke="#1a1a1a" stroke-width="0.9" stroke-linecap="butt"/>
<line x1="31.2" y1="218.36" x2="32.7" y2="218.36" stroke="#1a1a1a" stroke-width="0.9" stroke-linecap="butt"/>
<line x1="31.2" y1="215.81" x2="32.7" y2="215.81" stroke="#1a1a1a" stroke-width="0.9" stroke-linecap="butt"/>
<line x1="31.2" y1="213.39" x2="32.7" y2="213.39" stroke="#1a1a1a" stroke-width="0.9" stroke-linecap="butt"/>
<line x1="29.9" y1="211.09" x2="32.7" y2="211.09" stroke="#1a1a1a" stroke-width="0.9" stroke-linecap="butt"/>
<text x="28.6" y="213.99" font-size="8.3" text-anchor="end" font-weight="bold" fill="#000">20</text>
<line x1="31.2" y1="208.91" x2="32.7" y2="208.91" stroke="#1a1a1a" stroke-width="0.9" stroke-linecap="butt"/>
<line x1="31.2" y1="206.83" x2="32.7" y2="206.83" stroke="#1a1a1a" stroke-width="0.9" stroke-linecap="butt"/>
<line x1="31.2" y1="204.84" x2="32.7" y2="204.84" stroke="#1a1a1a" stroke-width="0.9" stroke-linecap="butt"/>
<line x1="31.2" y1="202.94" x2="32.7" y2="202.94" stroke="#1a1a1a" stroke-width="0.9" stroke-linecap="butt"/>
<line x1="100.6" y1="345.1" x2="100.6" y2="347.9" stroke="#1a1a1a" stroke-width="1.0" stroke-linecap="butt"/>
<text x="100.6" y="356.8" font-size="8.3" text-anchor="middle" font-weight="bold" fill="#000">0.1</text>
<line x1="177.1" y1="345.1" x2="177.1" y2="347.9" stroke="#1a1a1a" stroke-width="1.0" stroke-linecap="butt"/>
<text x="177.1" y="356.8" font-size="8.3" text-anchor="middle" font-weight="bold" fill="#000">1</text>
<line x1="200.13" y1="345.1" x2="200.13" y2="347.9" stroke="#1a1a1a" stroke-width="1.0" stroke-linecap="butt"/>
<text x="200.13" y="356.8" font-size="8.3" text-anchor="middle" font-weight="bold" fill="#000">2</text>
<rect x="32.7" y="201.6" width="178.6" height="143.5" fill="none" stroke="#1a1a1a" stroke-width="1.2"/>
<text x="122" y="373" font-size="10.2" text-anchor="middle" font-weight="bold" fill="#000"><tspan font-style="italic">V</tspan><tspan font-style="italic" font-size="6.8" dy="2">eff</tspan><tspan dy="-2"> (V)</tspan></text>
<g transform="rotate(-90 13 273.3)"><text x="13" y="273.3" font-size="10.2" font-weight="bold" text-anchor="middle"><tspan font-style="italic">J</tspan><tspan font-size="6.8" dy="2">sc</tspan><tspan dy="-2"> (mA cm</tspan><tspan font-size="6.5" dy="-3.5">-2</tspan><tspan dy="3.5">)</tspan></text></g>
<path d="M47,331.4 C53.03,320.05 74.3,278.63 83.2,263.3 C92.1,247.97 95.67,245.35 100.4,239.4 C105.13,233.45 108.35,230.5 111.6,227.6 C114.85,224.7 117.32,223.38 119.9,222 C122.48,220.62 121.77,220.6 127.1,219.3 C132.43,218 143.78,215.38 151.9,214.2 C160.02,213.02 166.55,212.53 175.8,212.2 C185.05,211.87 202.13,212.2 207.4,212.2" fill="none" stroke="#e9557a" stroke-width="1.3" stroke-linecap="butt" stroke-linejoin="round"/>
<path d="M46.8,323.3 C52.87,315.92 74.25,289.65 83.2,279 C92.15,268.35 95.77,264.3 100.5,259.4 C105.23,254.5 108.37,252.03 111.6,249.6 C114.83,247.17 117.32,246.13 119.9,244.8 C122.48,243.47 121.77,243.22 127.1,241.6 C132.43,239.98 143.78,236.95 151.9,235.1 C160.02,233.25 166.55,232.22 175.8,230.5 C185.05,228.78 202.13,225.75 207.4,224.8" fill="none" stroke="#1f8f1f" stroke-width="1.3" stroke-linecap="butt" stroke-linejoin="round"/>
<circle cx="47.13" cy="322.9" r="3.05" fill="#fff" stroke="#0b7f0b" stroke-width="0.8"/>
<path d="M44.08,322.9 A3.05,3.05 0 0 1 50.18,322.9 Z" fill="#0b7f0b"/>
<circle cx="83.63" cy="278.51" r="3.05" fill="#fff" stroke="#0b7f0b" stroke-width="0.8"/>
<path d="M80.58,278.51 A3.05,3.05 0 0 1 86.68,278.51 Z" fill="#0b7f0b"/>
<circle cx="100.6" cy="259.31" r="3.05" fill="#fff" stroke="#0b7f0b" stroke-width="0.8"/>
<path d="M97.55,259.31 A3.05,3.05 0 0 1 103.65,259.31 Z" fill="#0b7f0b"/>
<circle cx="111.78" cy="249.5" r="3.05" fill="#fff" stroke="#0b7f0b" stroke-width="0.8"/>
<path d="M108.73,249.5 A3.05,3.05 0 0 1 114.83,249.5 Z" fill="#0b7f0b"/>
<circle cx="120.13" cy="244.7" r="3.05" fill="#fff" stroke="#0b7f0b" stroke-width="0.8"/>
<path d="M117.08,244.7 A3.05,3.05 0 0 1 123.18,244.7 Z" fill="#0b7f0b"/>
<circle cx="126.8" cy="241.74" r="3.05" fill="#fff" stroke="#0b7f0b" stroke-width="0.8"/>
<path d="M123.75,241.74 A3.05,3.05 0 0 1 129.85,241.74 Z" fill="#0b7f0b"/>
<circle cx="132.35" cy="240.23" r="3.05" fill="#fff" stroke="#0b7f0b" stroke-width="0.8"/>
<path d="M129.3,240.23 A3.05,3.05 0 0 1 135.4,240.23 Z" fill="#0b7f0b"/>
<circle cx="137.1" cy="238.98" r="3.05" fill="#fff" stroke="#0b7f0b" stroke-width="0.8"/>
<path d="M134.05,238.98 A3.05,3.05 0 0 1 140.15,238.98 Z" fill="#0b7f0b"/>
<circle cx="141.26" cy="237.89" r="3.05" fill="#fff" stroke="#0b7f0b" stroke-width="0.8"/>
<path d="M138.21,237.89 A3.05,3.05 0 0 1 144.31,237.89 Z" fill="#0b7f0b"/>
<circle cx="144.95" cy="236.92" r="3.05" fill="#fff" stroke="#0b7f0b" stroke-width="0.8"/>
<path d="M141.9,236.92 A3.05,3.05 0 0 1 148,236.92 Z" fill="#0b7f0b"/>
<circle cx="148.28" cy="236.05" r="3.05" fill="#fff" stroke="#0b7f0b" stroke-width="0.8"/>
<path d="M145.23,236.05 A3.05,3.05 0 0 1 151.33,236.05 Z" fill="#0b7f0b"/>
<circle cx="151.3" cy="235.26" r="3.05" fill="#fff" stroke="#0b7f0b" stroke-width="0.8"/>
<path d="M148.25,235.26 A3.05,3.05 0 0 1 154.35,235.26 Z" fill="#0b7f0b"/>
<circle cx="154.07" cy="234.68" r="3.05" fill="#fff" stroke="#0b7f0b" stroke-width="0.8"/>
<path d="M151.02,234.68 A3.05,3.05 0 0 1 157.12,234.68 Z" fill="#0b7f0b"/>
<circle cx="156.63" cy="234.19" r="3.05" fill="#fff" stroke="#0b7f0b" stroke-width="0.8"/>
<path d="M153.58,234.19 A3.05,3.05 0 0 1 159.68,234.19 Z" fill="#0b7f0b"/>
<circle cx="159" cy="233.73" r="3.05" fill="#fff" stroke="#0b7f0b" stroke-width="0.8"/>
<path d="M155.95,233.73 A3.05,3.05 0 0 1 162.05,233.73 Z" fill="#0b7f0b"/>
<circle cx="161.22" cy="233.31" r="3.05" fill="#fff" stroke="#0b7f0b" stroke-width="0.8"/>
<path d="M158.17,233.31 A3.05,3.05 0 0 1 164.27,233.31 Z" fill="#0b7f0b"/>
<circle cx="163.3" cy="232.91" r="3.05" fill="#fff" stroke="#0b7f0b" stroke-width="0.8"/>
<path d="M160.25,232.91 A3.05,3.05 0 0 1 166.35,232.91 Z" fill="#0b7f0b"/>
<circle cx="165.25" cy="232.53" r="3.05" fill="#fff" stroke="#0b7f0b" stroke-width="0.8"/>
<path d="M162.2,232.53 A3.05,3.05 0 0 1 168.3,232.53 Z" fill="#0b7f0b"/>
<circle cx="167.1" cy="232.18" r="3.05" fill="#fff" stroke="#0b7f0b" stroke-width="0.8"/>
<path d="M164.05,232.18 A3.05,3.05 0 0 1 170.15,232.18 Z" fill="#0b7f0b"/>
<circle cx="168.85" cy="231.84" r="3.05" fill="#fff" stroke="#0b7f0b" stroke-width="0.8"/>
<path d="M165.8,231.84 A3.05,3.05 0 0 1 171.9,231.84 Z" fill="#0b7f0b"/>
<circle cx="170.51" cy="231.52" r="3.05" fill="#fff" stroke="#0b7f0b" stroke-width="0.8"/>
<path d="M167.46,231.52 A3.05,3.05 0 0 1 173.56,231.52 Z" fill="#0b7f0b"/>
<circle cx="172.09" cy="231.21" r="3.05" fill="#fff" stroke="#0b7f0b" stroke-width="0.8"/>
<path d="M169.04,231.21 A3.05,3.05 0 0 1 175.14,231.21 Z" fill="#0b7f0b"/>
<circle cx="173.6" cy="230.92" r="3.05" fill="#fff" stroke="#0b7f0b" stroke-width="0.8"/>
<path d="M170.55,230.92 A3.05,3.05 0 0 1 176.65,230.92 Z" fill="#0b7f0b"/>
<circle cx="175.04" cy="230.65" r="3.05" fill="#fff" stroke="#0b7f0b" stroke-width="0.8"/>
<path d="M171.99,230.65 A3.05,3.05 0 0 1 178.09,230.65 Z" fill="#0b7f0b"/>
<circle cx="176.43" cy="230.39" r="3.05" fill="#fff" stroke="#0b7f0b" stroke-width="0.8"/>
<path d="M173.38,230.39 A3.05,3.05 0 0 1 179.48,230.39 Z" fill="#0b7f0b"/>
<circle cx="177.76" cy="230.15" r="3.05" fill="#fff" stroke="#0b7f0b" stroke-width="0.8"/>
<path d="M174.71,230.15 A3.05,3.05 0 0 1 180.81,230.15 Z" fill="#0b7f0b"/>
<circle cx="179.04" cy="229.92" r="3.05" fill="#fff" stroke="#0b7f0b" stroke-width="0.8"/>
<path d="M175.99,229.92 A3.05,3.05 0 0 1 182.09,229.92 Z" fill="#0b7f0b"/>
<circle cx="180.27" cy="229.69" r="3.05" fill="#fff" stroke="#0b7f0b" stroke-width="0.8"/>
<path d="M177.22,229.69 A3.05,3.05 0 0 1 183.32,229.69 Z" fill="#0b7f0b"/>
<circle cx="181.45" cy="229.48" r="3.05" fill="#fff" stroke="#0b7f0b" stroke-width="0.8"/>
<path d="M178.4,229.48 A3.05,3.05 0 0 1 184.5,229.48 Z" fill="#0b7f0b"/>
<circle cx="182.6" cy="229.27" r="3.05" fill="#fff" stroke="#0b7f0b" stroke-width="0.8"/>
<path d="M179.55,229.27 A3.05,3.05 0 0 1 185.65,229.27 Z" fill="#0b7f0b"/>
<circle cx="183.71" cy="229.07" r="3.05" fill="#fff" stroke="#0b7f0b" stroke-width="0.8"/>
<path d="M180.66,229.07 A3.05,3.05 0 0 1 186.76,229.07 Z" fill="#0b7f0b"/>
<circle cx="184.78" cy="228.88" r="3.05" fill="#fff" stroke="#0b7f0b" stroke-width="0.8"/>
<path d="M181.73,228.88 A3.05,3.05 0 0 1 187.83,228.88 Z" fill="#0b7f0b"/>
<circle cx="185.82" cy="228.69" r="3.05" fill="#fff" stroke="#0b7f0b" stroke-width="0.8"/>
<path d="M182.77,228.69 A3.05,3.05 0 0 1 188.87,228.69 Z" fill="#0b7f0b"/>
<circle cx="186.82" cy="228.51" r="3.05" fill="#fff" stroke="#0b7f0b" stroke-width="0.8"/>
<path d="M183.77,228.51 A3.05,3.05 0 0 1 189.87,228.51 Z" fill="#0b7f0b"/>
<circle cx="187.8" cy="228.34" r="3.05" fill="#fff" stroke="#0b7f0b" stroke-width="0.8"/>
<path d="M184.75,228.34 A3.05,3.05 0 0 1 190.85,228.34 Z" fill="#0b7f0b"/>
<circle cx="188.75" cy="228.16" r="3.05" fill="#fff" stroke="#0b7f0b" stroke-width="0.8"/>
<path d="M185.7,228.16 A3.05,3.05 0 0 1 191.8,228.16 Z" fill="#0b7f0b"/>
<circle cx="189.67" cy="228" r="3.05" fill="#fff" stroke="#0b7f0b" stroke-width="0.8"/>
<path d="M186.62,228 A3.05,3.05 0 0 1 192.72,228 Z" fill="#0b7f0b"/>
<circle cx="190.57" cy="227.84" r="3.05" fill="#fff" stroke="#0b7f0b" stroke-width="0.8"/>
<path d="M187.52,227.84 A3.05,3.05 0 0 1 193.62,227.84 Z" fill="#0b7f0b"/>
<circle cx="191.45" cy="227.68" r="3.05" fill="#fff" stroke="#0b7f0b" stroke-width="0.8"/>
<path d="M188.4,227.68 A3.05,3.05 0 0 1 194.5,227.68 Z" fill="#0b7f0b"/>
<circle cx="192.3" cy="227.52" r="3.05" fill="#fff" stroke="#0b7f0b" stroke-width="0.8"/>
<path d="M189.25,227.52 A3.05,3.05 0 0 1 195.35,227.52 Z" fill="#0b7f0b"/>
<circle cx="193.13" cy="227.37" r="3.05" fill="#fff" stroke="#0b7f0b" stroke-width="0.8"/>
<path d="M190.08,227.37 A3.05,3.05 0 0 1 196.18,227.37 Z" fill="#0b7f0b"/>
<circle cx="193.94" cy="227.23" r="3.05" fill="#fff" stroke="#0b7f0b" stroke-width="0.8"/>
<path d="M190.89,227.23 A3.05,3.05 0 0 1 196.99,227.23 Z" fill="#0b7f0b"/>
<circle cx="194.73" cy="227.09" r="3.05" fill="#fff" stroke="#0b7f0b" stroke-width="0.8"/>
<path d="M191.68,227.09 A3.05,3.05 0 0 1 197.78,227.09 Z" fill="#0b7f0b"/>
<circle cx="195.5" cy="226.95" r="3.05" fill="#fff" stroke="#0b7f0b" stroke-width="0.8"/>
<path d="M192.45,226.95 A3.05,3.05 0 0 1 198.55,226.95 Z" fill="#0b7f0b"/>
<circle cx="196.26" cy="226.81" r="3.05" fill="#fff" stroke="#0b7f0b" stroke-width="0.8"/>
<path d="M193.21,226.81 A3.05,3.05 0 0 1 199.31,226.81 Z" fill="#0b7f0b"/>
<circle cx="197" cy="226.68" r="3.05" fill="#fff" stroke="#0b7f0b" stroke-width="0.8"/>
<path d="M193.95,226.68 A3.05,3.05 0 0 1 200.05,226.68 Z" fill="#0b7f0b"/>
<circle cx="197.72" cy="226.55" r="3.05" fill="#fff" stroke="#0b7f0b" stroke-width="0.8"/>
<path d="M194.67,226.55 A3.05,3.05 0 0 1 200.77,226.55 Z" fill="#0b7f0b"/>
<circle cx="198.42" cy="226.42" r="3.05" fill="#fff" stroke="#0b7f0b" stroke-width="0.8"/>
<path d="M195.37,226.42 A3.05,3.05 0 0 1 201.47,226.42 Z" fill="#0b7f0b"/>
<circle cx="199.12" cy="226.29" r="3.05" fill="#fff" stroke="#0b7f0b" stroke-width="0.8"/>
<path d="M196.07,226.29 A3.05,3.05 0 0 1 202.17,226.29 Z" fill="#0b7f0b"/>
<circle cx="199.79" cy="226.17" r="3.05" fill="#fff" stroke="#0b7f0b" stroke-width="0.8"/>
<path d="M196.74,226.17 A3.05,3.05 0 0 1 202.84,226.17 Z" fill="#0b7f0b"/>
<circle cx="200.46" cy="226.05" r="3.05" fill="#fff" stroke="#0b7f0b" stroke-width="0.8"/>
<path d="M197.41,226.05 A3.05,3.05 0 0 1 203.51,226.05 Z" fill="#0b7f0b"/>
<circle cx="201.11" cy="225.93" r="3.05" fill="#fff" stroke="#0b7f0b" stroke-width="0.8"/>
<path d="M198.06,225.93 A3.05,3.05 0 0 1 204.16,225.93 Z" fill="#0b7f0b"/>
<circle cx="201.75" cy="225.82" r="3.05" fill="#fff" stroke="#0b7f0b" stroke-width="0.8"/>
<path d="M198.7,225.82 A3.05,3.05 0 0 1 204.8,225.82 Z" fill="#0b7f0b"/>
<circle cx="202.38" cy="225.71" r="3.05" fill="#fff" stroke="#0b7f0b" stroke-width="0.8"/>
<path d="M199.33,225.71 A3.05,3.05 0 0 1 205.43,225.71 Z" fill="#0b7f0b"/>
<circle cx="202.99" cy="225.6" r="3.05" fill="#fff" stroke="#0b7f0b" stroke-width="0.8"/>
<path d="M199.94,225.6 A3.05,3.05 0 0 1 206.04,225.6 Z" fill="#0b7f0b"/>
<circle cx="203.6" cy="225.49" r="3.05" fill="#fff" stroke="#0b7f0b" stroke-width="0.8"/>
<path d="M200.55,225.49 A3.05,3.05 0 0 1 206.65,225.49 Z" fill="#0b7f0b"/>
<circle cx="204.19" cy="225.38" r="3.05" fill="#fff" stroke="#0b7f0b" stroke-width="0.8"/>
<path d="M201.14,225.38 A3.05,3.05 0 0 1 207.24,225.38 Z" fill="#0b7f0b"/>
<circle cx="204.77" cy="225.27" r="3.05" fill="#fff" stroke="#0b7f0b" stroke-width="0.8"/>
<path d="M201.72,225.27 A3.05,3.05 0 0 1 207.82,225.27 Z" fill="#0b7f0b"/>
<circle cx="205.35" cy="225.17" r="3.05" fill="#fff" stroke="#0b7f0b" stroke-width="0.8"/>
<path d="M202.3,225.17 A3.05,3.05 0 0 1 208.4,225.17 Z" fill="#0b7f0b"/>
<circle cx="205.91" cy="225.07" r="3.05" fill="#fff" stroke="#0b7f0b" stroke-width="0.8"/>
<path d="M202.86,225.07 A3.05,3.05 0 0 1 208.96,225.07 Z" fill="#0b7f0b"/>
<circle cx="206.46" cy="224.97" r="3.05" fill="#fff" stroke="#0b7f0b" stroke-width="0.8"/>
<path d="M203.41,224.97 A3.05,3.05 0 0 1 209.51,224.97 Z" fill="#0b7f0b"/>
<circle cx="207.01" cy="224.87" r="3.05" fill="#fff" stroke="#0b7f0b" stroke-width="0.8"/>
<path d="M203.96,224.87 A3.05,3.05 0 0 1 210.06,224.87 Z" fill="#0b7f0b"/>
<circle cx="47.13" cy="331.16" r="3" fill="url(#pg)"/>
<circle cx="83.63" cy="262.7" r="3" fill="url(#pg)"/>
<circle cx="100.6" cy="239.19" r="3" fill="url(#pg)"/>
<circle cx="111.78" cy="227.48" r="3" fill="url(#pg)"/>
<circle cx="120.13" cy="221.91" r="3" fill="url(#pg)"/>
<circle cx="126.8" cy="219.41" r="3" fill="url(#pg)"/>
<circle cx="132.35" cy="218.22" r="3" fill="url(#pg)"/>
<circle cx="137.1" cy="217.24" r="3" fill="url(#pg)"/>
<circle cx="141.26" cy="216.39" r="3" fill="url(#pg)"/>
<circle cx="144.95" cy="215.63" r="3" fill="url(#pg)"/>
<circle cx="148.28" cy="214.94" r="3" fill="url(#pg)"/>
<circle cx="151.3" cy="214.32" r="3" fill="url(#pg)"/>
<circle cx="154.07" cy="214.02" r="3" fill="url(#pg)"/>
<circle cx="156.63" cy="213.8" r="3" fill="url(#pg)"/>
<circle cx="159" cy="213.61" r="3" fill="url(#pg)"/>
<circle cx="161.22" cy="213.42" r="3" fill="url(#pg)"/>
<circle cx="163.3" cy="213.25" r="3" fill="url(#pg)"/>
<circle cx="165.25" cy="213.08" r="3" fill="url(#pg)"/>
<circle cx="167.1" cy="212.93" r="3" fill="url(#pg)"/>
<circle cx="168.85" cy="212.78" r="3" fill="url(#pg)"/>
<circle cx="170.51" cy="212.64" r="3" fill="url(#pg)"/>
<circle cx="172.09" cy="212.51" r="3" fill="url(#pg)"/>
<circle cx="173.6" cy="212.38" r="3" fill="url(#pg)"/>
<circle cx="175.04" cy="212.26" r="3" fill="url(#pg)"/>
<circle cx="176.43" cy="212.2" r="3" fill="url(#pg)"/>
<circle cx="177.76" cy="212.2" r="3" fill="url(#pg)"/>
<circle cx="179.04" cy="212.2" r="3" fill="url(#pg)"/>
<circle cx="180.27" cy="212.2" r="3" fill="url(#pg)"/>
<circle cx="181.45" cy="212.2" r="3" fill="url(#pg)"/>
<circle cx="182.6" cy="212.2" r="3" fill="url(#pg)"/>
<circle cx="183.71" cy="212.2" r="3" fill="url(#pg)"/>
<circle cx="184.78" cy="212.2" r="3" fill="url(#pg)"/>
<circle cx="185.82" cy="212.2" r="3" fill="url(#pg)"/>
<circle cx="186.82" cy="212.2" r="3" fill="url(#pg)"/>
<circle cx="187.8" cy="212.2" r="3" fill="url(#pg)"/>
<circle cx="188.75" cy="212.2" r="3" fill="url(#pg)"/>
<circle cx="189.67" cy="212.2" r="3" fill="url(#pg)"/>
<circle cx="190.57" cy="212.2" r="3" fill="url(#pg)"/>
<circle cx="191.45" cy="212.2" r="3" fill="url(#pg)"/>
<circle cx="192.3" cy="212.2" r="3" fill="url(#pg)"/>
<circle cx="193.13" cy="212.2" r="3" fill="url(#pg)"/>
<circle cx="193.94" cy="212.2" r="3" fill="url(#pg)"/>
<circle cx="194.73" cy="212.2" r="3" fill="url(#pg)"/>
<circle cx="195.5" cy="212.2" r="3" fill="url(#pg)"/>
<circle cx="196.26" cy="212.2" r="3" fill="url(#pg)"/>
<circle cx="197" cy="212.2" r="3" fill="url(#pg)"/>
<circle cx="197.72" cy="212.2" r="3" fill="url(#pg)"/>
<circle cx="198.42" cy="212.2" r="3" fill="url(#pg)"/>
<circle cx="199.12" cy="212.2" r="3" fill="url(#pg)"/>
<circle cx="199.79" cy="212.2" r="3" fill="url(#pg)"/>
<circle cx="200.46" cy="212.2" r="3" fill="url(#pg)"/>
<circle cx="201.11" cy="212.2" r="3" fill="url(#pg)"/>
<circle cx="201.75" cy="212.2" r="3" fill="url(#pg)"/>
<circle cx="202.38" cy="212.2" r="3" fill="url(#pg)"/>
<circle cx="202.99" cy="212.2" r="3" fill="url(#pg)"/>
<circle cx="203.6" cy="212.2" r="3" fill="url(#pg)"/>
<circle cx="204.19" cy="212.2" r="3" fill="url(#pg)"/>
<circle cx="204.77" cy="212.2" r="3" fill="url(#pg)"/>
<circle cx="205.35" cy="212.2" r="3" fill="url(#pg)"/>
<circle cx="205.91" cy="212.2" r="3" fill="url(#pg)"/>
<circle cx="206.46" cy="212.2" r="3" fill="url(#pg)"/>
<circle cx="207.01" cy="212.2" r="3" fill="url(#pg)"/>
<line x1="63.3" y1="316.2" x2="77.7" y2="316.2" stroke="#1f8f1f" stroke-width="1.3" stroke-linecap="butt"/>
<circle cx="70.5" cy="316.2" r="3.05" fill="#fff" stroke="#1f8f1f" stroke-width="0.75"/>
<path d="M67.45,316.2 A3.05,3.05 0 0 1 73.55,316.2 Z" fill="#1f8f1f"/>
<line x1="63.3" y1="325.8" x2="77.7" y2="325.8" stroke="#e9557a" stroke-width="1.3" stroke-linecap="butt"/>
<circle cx="70.5" cy="325.8" r="3.2" fill="url(#pg)"/>
<text x="79.8" y="319.1" font-size="8.1" text-anchor="start" font-weight="bold" fill="#000">P3HT:<tspan font-style="italic">Z</tspan>-2IFC-F</text>
<text x="79.8" y="328.7" font-size="8.1" text-anchor="start" font-weight="bold" fill="#000">P3HT:<tspan font-style="italic">E</tspan>-2IFC-F</text>
<text x="147.2" y="319.1" font-size="8.1" text-anchor="start" font-weight="bold" fill="#000">82.34%</text>
<text x="179.8" y="319.1" font-size="8.1" text-anchor="start" font-weight="bold" fill="#000">71.63%</text>
<text x="147.2" y="328.7" font-size="8.1" text-anchor="start" font-weight="bold" fill="#000">93.39%</text>
<text x="179.8" y="328.7" font-size="8.1" text-anchor="start" font-weight="bold" fill="#000">82.94%</text>
<text x="165.5" y="307.8" font-size="9.2" text-anchor="middle" font-weight="normal" fill="#000" font-style="italic">η<tspan font-size="6.2" dy="1.5" font-weight="bold">diss</tspan></text>
<text x="194.5" y="307.8" font-size="9.2" text-anchor="middle" font-weight="normal" fill="#000" font-style="italic">η<tspan font-size="6.2" dy="1.5" font-weight="bold">coll</tspan></text>
<line x1="262.1" y1="348.3" x2="264.9" y2="348.3" stroke="#1a1a1a" stroke-width="1.0" stroke-linecap="butt"/>
<text x="261" y="351.2" font-size="8.3" text-anchor="end" font-weight="bold" fill="#000">0</text>
<line x1="263.3" y1="331.44" x2="264.9" y2="331.44" stroke="#1a1a1a" stroke-width="1.0" stroke-linecap="butt"/>
<line x1="262.1" y1="314.58" x2="264.9" y2="314.58" stroke="#1a1a1a" stroke-width="1.0" stroke-linecap="butt"/>
<text x="261" y="317.48" font-size="8.3" text-anchor="end" font-weight="bold" fill="#000">2</text>
<line x1="263.3" y1="297.72" x2="264.9" y2="297.72" stroke="#1a1a1a" stroke-width="1.0" stroke-linecap="butt"/>
<line x1="262.1" y1="280.86" x2="264.9" y2="280.86" stroke="#1a1a1a" stroke-width="1.0" stroke-linecap="butt"/>
<text x="261" y="283.76" font-size="8.3" text-anchor="end" font-weight="bold" fill="#000">4</text>
<line x1="263.3" y1="264" x2="264.9" y2="264" stroke="#1a1a1a" stroke-width="1.0" stroke-linecap="butt"/>
<line x1="262.1" y1="247.14" x2="264.9" y2="247.14" stroke="#1a1a1a" stroke-width="1.0" stroke-linecap="butt"/>
<text x="261" y="250.04" font-size="8.3" text-anchor="end" font-weight="bold" fill="#000">6</text>
<line x1="263.3" y1="230.28" x2="264.9" y2="230.28" stroke="#1a1a1a" stroke-width="1.0" stroke-linecap="butt"/>
<line x1="262.1" y1="213.42" x2="264.9" y2="213.42" stroke="#1a1a1a" stroke-width="1.0" stroke-linecap="butt"/>
<text x="261" y="216.32" font-size="8.3" text-anchor="end" font-weight="bold" fill="#000">8</text>
<line x1="354.6" y1="348.4" x2="354.6" y2="350.9" stroke="#1a1a1a" stroke-width="1.0" stroke-linecap="butt"/>
<rect x="287.8" y="288.62" width="21.6" height="59.78" fill="#f5a9b9"/>
<text x="298.6" y="285.42" font-size="8.5" text-anchor="middle" font-weight="bold" fill="#000">3.54</text>
<rect x="310" y="318.96" width="22.1" height="29.44" fill="#a9d9a1"/>
<text x="321.05" y="315.76" font-size="8.5" text-anchor="middle" font-weight="bold" fill="#000">1.74</text>
<rect x="377" y="243.6" width="22.2" height="104.8" fill="#f5a9b9"/>
<text x="388.1" y="240.4" font-size="8.5" text-anchor="middle" font-weight="bold" fill="#000">6.21</text>
<rect x="399.8" y="268.89" width="21.9" height="79.51" fill="#a9d9a1"/>
<text x="410.75" y="265.69" font-size="8.5" text-anchor="middle" font-weight="bold" fill="#000">4.71</text>
<rect x="264.9" y="204.6" width="179.3" height="143.8" fill="none" stroke="#1a1a1a" stroke-width="1.2"/>
<rect x="278.1" y="210.4" width="19" height="9.3" fill="#f5a9b9"/>
<rect x="341.9" y="210.4" width="19" height="9.3" fill="#a9d9a1"/>
<text x="299.6" y="218.4" font-size="8.9" text-anchor="start" font-weight="bold" fill="#000">electron</text>
<text x="364" y="218.4" font-size="8.9" text-anchor="start" font-weight="bold" fill="#000">hole</text>
<text x="308.6" y="366.4" font-size="10.1" text-anchor="middle" font-weight="bold" fill="#000">P3HT:<tspan font-style="italic">Z</tspan>-2IFC-F</text>
<text x="401.8" y="366.4" font-size="10.1" text-anchor="middle" font-weight="bold" fill="#000">P3HT:<tspan font-style="italic">E</tspan>-2IFC-F</text>
<g transform="rotate(-90 252.3 275.8)"><text x="252.3" y="275.8" font-size="10.3" font-weight="bold" text-anchor="middle">Carrier mobility (10<tspan font-size="6.4" dy="-3.5">-4</tspan><tspan dy="3.5"> cm</tspan><tspan font-size="6.4" dy="-3.5">2</tspan><tspan dy="3.5"> V</tspan><tspan font-size="6.4" dy="-3.5">-1</tspan><tspan dy="3.5"> s</tspan><tspan font-size="6.4" dy="-3.5">-1</tspan><tspan dy="3.5">)</tspan></text></g>
<line x1="496.8" y1="338" x2="499.6" y2="338" stroke="#1a1a1a" stroke-width="1.0" stroke-linecap="butt"/>
<text x="494.4" y="340.5" font-size="8.3" text-anchor="end" font-weight="bold" fill="#000">0.0</text>
<line x1="498" y1="325.04" x2="499.6" y2="325.04" stroke="#1a1a1a" stroke-width="1.0" stroke-linecap="butt"/>
<line x1="496.8" y1="312.08" x2="499.6" y2="312.08" stroke="#1a1a1a" stroke-width="1.0" stroke-linecap="butt"/>
<text x="494.4" y="314.58" font-size="8.3" text-anchor="end" font-weight="bold" fill="#000">0.2</text>
<line x1="498" y1="299.12" x2="499.6" y2="299.12" stroke="#1a1a1a" stroke-width="1.0" stroke-linecap="butt"/>
<line x1="496.8" y1="286.16" x2="499.6" y2="286.16" stroke="#1a1a1a" stroke-width="1.0" stroke-linecap="butt"/>
<text x="494.4" y="288.66" font-size="8.3" text-anchor="end" font-weight="bold" fill="#000">0.4</text>
<line x1="498" y1="273.2" x2="499.6" y2="273.2" stroke="#1a1a1a" stroke-width="1.0" stroke-linecap="butt"/>
<line x1="496.8" y1="260.24" x2="499.6" y2="260.24" stroke="#1a1a1a" stroke-width="1.0" stroke-linecap="butt"/>
<text x="494.4" y="262.74" font-size="8.3" text-anchor="end" font-weight="bold" fill="#000">0.6</text>
<line x1="498" y1="247.28" x2="499.6" y2="247.28" stroke="#1a1a1a" stroke-width="1.0" stroke-linecap="butt"/>
<line x1="496.8" y1="234.32" x2="499.6" y2="234.32" stroke="#1a1a1a" stroke-width="1.0" stroke-linecap="butt"/>
<text x="494.4" y="236.82" font-size="8.3" text-anchor="end" font-weight="bold" fill="#000">0.8</text>
<line x1="498" y1="221.36" x2="499.6" y2="221.36" stroke="#1a1a1a" stroke-width="1.0" stroke-linecap="butt"/>
<line x1="496.8" y1="208.4" x2="499.6" y2="208.4" stroke="#1a1a1a" stroke-width="1.0" stroke-linecap="butt"/>
<text x="494.4" y="210.9" font-size="8.3" text-anchor="end" font-weight="bold" fill="#000">1.0</text>
<line x1="502.1" y1="343.8" x2="502.1" y2="346.6" stroke="#1a1a1a" stroke-width="1.0" stroke-linecap="butt"/>
<text x="502.1" y="356.5" font-size="8.3" text-anchor="middle" font-weight="bold" fill="#000">0</text>
<line x1="514.51" y1="343.8" x2="514.51" y2="345.4" stroke="#1a1a1a" stroke-width="1.0" stroke-linecap="butt"/>
<line x1="526.92" y1="343.8" x2="526.92" y2="346.6" stroke="#1a1a1a" stroke-width="1.0" stroke-linecap="butt"/>
<text x="526.92" y="356.5" font-size="8.3" text-anchor="middle" font-weight="bold" fill="#000">50</text>
<line x1="539.32" y1="343.8" x2="539.32" y2="345.4" stroke="#1a1a1a" stroke-width="1.0" stroke-linecap="butt"/>
<line x1="551.73" y1="343.8" x2="551.73" y2="346.6" stroke="#1a1a1a" stroke-width="1.0" stroke-linecap="butt"/>
<text x="551.73" y="356.5" font-size="8.3" text-anchor="middle" font-weight="bold" fill="#000">100</text>
<line x1="564.14" y1="343.8" x2="564.14" y2="345.4" stroke="#1a1a1a" stroke-width="1.0" stroke-linecap="butt"/>
<line x1="576.55" y1="343.8" x2="576.55" y2="346.6" stroke="#1a1a1a" stroke-width="1.0" stroke-linecap="butt"/>
<text x="576.55" y="356.5" font-size="8.3" text-anchor="middle" font-weight="bold" fill="#000">150</text>
<line x1="588.95" y1="343.8" x2="588.95" y2="345.4" stroke="#1a1a1a" stroke-width="1.0" stroke-linecap="butt"/>
<line x1="601.36" y1="343.8" x2="601.36" y2="346.6" stroke="#1a1a1a" stroke-width="1.0" stroke-linecap="butt"/>
<text x="601.36" y="356.5" font-size="8.3" text-anchor="middle" font-weight="bold" fill="#000">200</text>
<line x1="613.77" y1="343.8" x2="613.77" y2="345.4" stroke="#1a1a1a" stroke-width="1.0" stroke-linecap="butt"/>
<line x1="626.18" y1="343.8" x2="626.18" y2="346.6" stroke="#1a1a1a" stroke-width="1.0" stroke-linecap="butt"/>
<text x="626.18" y="356.5" font-size="8.3" text-anchor="middle" font-weight="bold" fill="#000">250</text>
<line x1="638.58" y1="343.8" x2="638.58" y2="345.4" stroke="#1a1a1a" stroke-width="1.0" stroke-linecap="butt"/>
<line x1="650.99" y1="343.8" x2="650.99" y2="346.6" stroke="#1a1a1a" stroke-width="1.0" stroke-linecap="butt"/>
<text x="650.99" y="356.5" font-size="8.3" text-anchor="middle" font-weight="bold" fill="#000">300</text>
<line x1="663.4" y1="343.8" x2="663.4" y2="345.4" stroke="#1a1a1a" stroke-width="1.0" stroke-linecap="butt"/>
<line x1="675.81" y1="343.8" x2="675.81" y2="346.6" stroke="#1a1a1a" stroke-width="1.0" stroke-linecap="butt"/>
<text x="675.81" y="356.5" font-size="8.3" text-anchor="middle" font-weight="bold" fill="#000">350</text>
<rect x="499.6" y="201.6" width="177.9" height="142.2" fill="none" stroke="#1a1a1a" stroke-width="1.2"/>
<text x="588.5" y="373.2" font-size="10.2" text-anchor="middle" font-weight="bold" fill="#000">Time (h)</text>
<text x="478.8" y="274" font-size="10.2" text-anchor="middle" font-weight="bold" fill="#000" transform="rotate(-90 478.8 274)">Normalized PCE</text>
<circle cx="502.8" cy="208.5" r="2.85" fill="url(#pg)"/>
<circle cx="503.8" cy="208.9" r="2.85" fill="url(#pg)"/>
<circle cx="504.8" cy="209.3" r="2.85" fill="url(#pg)"/>
<circle cx="505.81" cy="209.7" r="2.85" fill="url(#pg)"/>
<circle cx="506.81" cy="210.09" r="2.85" fill="url(#pg)"/>
<circle cx="507.81" cy="210.48" r="2.85" fill="url(#pg)"/>
<circle cx="508.81" cy="210.86" r="2.85" fill="url(#pg)"/>
<circle cx="509.82" cy="211.23" r="2.85" fill="url(#pg)"/>
<circle cx="510.82" cy="211.6" r="2.85" fill="url(#pg)"/>
<circle cx="511.82" cy="211.97" r="2.85" fill="url(#pg)"/>
<circle cx="512.82" cy="212.35" r="2.85" fill="url(#pg)"/>
<circle cx="513.83" cy="212.73" r="2.85" fill="url(#pg)"/>
<circle cx="514.83" cy="213.13" r="2.85" fill="url(#pg)"/>
<circle cx="515.83" cy="213.54" r="2.85" fill="url(#pg)"/>
<circle cx="516.83" cy="213.96" r="2.85" fill="url(#pg)"/>
<circle cx="517.84" cy="214.37" r="2.85" fill="url(#pg)"/>
<circle cx="518.84" cy="214.79" r="2.85" fill="url(#pg)"/>
<circle cx="519.84" cy="215.19" r="2.85" fill="url(#pg)"/>
<circle cx="520.84" cy="215.58" r="2.85" fill="url(#pg)"/>
<circle cx="521.84" cy="215.95" r="2.85" fill="url(#pg)"/>
<circle cx="522.85" cy="216.3" r="2.85" fill="url(#pg)"/>
<circle cx="523.85" cy="216.65" r="2.85" fill="url(#pg)"/>
<circle cx="524.85" cy="216.98" r="2.85" fill="url(#pg)"/>
<circle cx="525.85" cy="217.3" r="2.85" fill="url(#pg)"/>
<circle cx="526.86" cy="217.6" r="2.85" fill="url(#pg)"/>
<circle cx="527.86" cy="217.87" r="2.85" fill="url(#pg)"/>
<circle cx="528.86" cy="218.13" r="2.85" fill="url(#pg)"/>
<circle cx="529.86" cy="218.37" r="2.85" fill="url(#pg)"/>
<circle cx="530.87" cy="218.6" r="2.85" fill="url(#pg)"/>
<circle cx="531.87" cy="218.82" r="2.85" fill="url(#pg)"/>
<circle cx="532.87" cy="219.04" r="2.85" fill="url(#pg)"/>
<circle cx="533.87" cy="219.25" r="2.85" fill="url(#pg)"/>
<circle cx="534.88" cy="219.46" r="2.85" fill="url(#pg)"/>
<circle cx="535.88" cy="219.66" r="2.85" fill="url(#pg)"/>
<circle cx="536.88" cy="219.87" r="2.85" fill="url(#pg)"/>
<circle cx="537.88" cy="220.07" r="2.85" fill="url(#pg)"/>
<circle cx="538.89" cy="220.26" r="2.85" fill="url(#pg)"/>
<circle cx="539.89" cy="220.46" r="2.85" fill="url(#pg)"/>
<circle cx="540.89" cy="220.65" r="2.85" fill="url(#pg)"/>
<circle cx="541.89" cy="220.83" r="2.85" fill="url(#pg)"/>
<circle cx="542.89" cy="221.02" r="2.85" fill="url(#pg)"/>
<circle cx="543.9" cy="221.2" r="2.85" fill="url(#pg)"/>
<circle cx="544.9" cy="221.38" r="2.85" fill="url(#pg)"/>
<circle cx="545.9" cy="221.56" r="2.85" fill="url(#pg)"/>
<circle cx="546.9" cy="221.73" r="2.85" fill="url(#pg)"/>
<circle cx="547.91" cy="221.89" r="2.85" fill="url(#pg)"/>
<circle cx="548.91" cy="222.05" r="2.85" fill="url(#pg)"/>
<circle cx="549.91" cy="222.2" r="2.85" fill="url(#pg)"/>
<circle cx="550.91" cy="222.34" r="2.85" fill="url(#pg)"/>
<circle cx="551.92" cy="222.48" r="2.85" fill="url(#pg)"/>
<circle cx="552.92" cy="222.62" r="2.85" fill="url(#pg)"/>
<circle cx="553.92" cy="222.75" r="2.85" fill="url(#pg)"/>
<circle cx="554.92" cy="222.88" r="2.85" fill="url(#pg)"/>
<circle cx="555.93" cy="223" r="2.85" fill="url(#pg)"/>
<circle cx="556.93" cy="223.13" r="2.85" fill="url(#pg)"/>
<circle cx="557.93" cy="223.24" r="2.85" fill="url(#pg)"/>
<circle cx="558.93" cy="223.35" r="2.85" fill="url(#pg)"/>
<circle cx="559.93" cy="223.45" r="2.85" fill="url(#pg)"/>
<circle cx="560.94" cy="223.54" r="2.85" fill="url(#pg)"/>
<circle cx="561.94" cy="223.63" r="2.85" fill="url(#pg)"/>
<circle cx="562.94" cy="223.72" r="2.85" fill="url(#pg)"/>
<circle cx="563.94" cy="223.81" r="2.85" fill="url(#pg)"/>
<circle cx="564.95" cy="223.9" r="2.85" fill="url(#pg)"/>
<circle cx="565.95" cy="224" r="2.85" fill="url(#pg)"/>
<circle cx="566.95" cy="224.12" r="2.85" fill="url(#pg)"/>
<circle cx="567.95" cy="224.24" r="2.85" fill="url(#pg)"/>
<circle cx="568.96" cy="224.38" r="2.85" fill="url(#pg)"/>
<circle cx="569.96" cy="224.54" r="2.85" fill="url(#pg)"/>
<circle cx="570.96" cy="224.71" r="2.85" fill="url(#pg)"/>
<circle cx="571.96" cy="224.9" r="2.85" fill="url(#pg)"/>
<circle cx="572.97" cy="225.09" r="2.85" fill="url(#pg)"/>
<circle cx="573.97" cy="225.29" r="2.85" fill="url(#pg)"/>
<circle cx="574.97" cy="225.48" r="2.85" fill="url(#pg)"/>
<circle cx="575.97" cy="225.67" r="2.85" fill="url(#pg)"/>
<circle cx="576.98" cy="225.85" r="2.85" fill="url(#pg)"/>
<circle cx="577.98" cy="226.02" r="2.85" fill="url(#pg)"/>
<circle cx="578.98" cy="226.17" r="2.85" fill="url(#pg)"/>
<circle cx="579.98" cy="226.3" r="2.85" fill="url(#pg)"/>
<circle cx="580.98" cy="226.41" r="2.85" fill="url(#pg)"/>
<circle cx="581.99" cy="226.5" r="2.85" fill="url(#pg)"/>
<circle cx="582.99" cy="226.59" r="2.85" fill="url(#pg)"/>
<circle cx="583.99" cy="226.66" r="2.85" fill="url(#pg)"/>
<circle cx="584.99" cy="226.72" r="2.85" fill="url(#pg)"/>
<circle cx="586" cy="226.78" r="2.85" fill="url(#pg)"/>
<circle cx="587" cy="226.82" r="2.85" fill="url(#pg)"/>
<circle cx="588" cy="226.87" r="2.85" fill="url(#pg)"/>
<circle cx="589" cy="226.91" r="2.85" fill="url(#pg)"/>
<circle cx="590.01" cy="226.94" r="2.85" fill="url(#pg)"/>
<circle cx="591.01" cy="226.98" r="2.85" fill="url(#pg)"/>
<circle cx="592.01" cy="227.01" r="2.85" fill="url(#pg)"/>
<circle cx="593.01" cy="227.04" r="2.85" fill="url(#pg)"/>
<circle cx="594.02" cy="227.06" r="2.85" fill="url(#pg)"/>
<circle cx="595.02" cy="227.07" r="2.85" fill="url(#pg)"/>
<circle cx="596.02" cy="227.08" r="2.85" fill="url(#pg)"/>
<circle cx="597.02" cy="227.08" r="2.85" fill="url(#pg)"/>
<circle cx="598.02" cy="227.08" r="2.85" fill="url(#pg)"/>
<circle cx="599.03" cy="227.08" r="2.85" fill="url(#pg)"/>
<circle cx="600.03" cy="227.08" r="2.85" fill="url(#pg)"/>
<circle cx="601.03" cy="227.08" r="2.85" fill="url(#pg)"/>
<circle cx="602.03" cy="227.09" r="2.85" fill="url(#pg)"/>
<circle cx="603.04" cy="227.1" r="2.85" fill="url(#pg)"/>
<circle cx="604.04" cy="227.11" r="2.85" fill="url(#pg)"/>
<circle cx="605.04" cy="227.11" r="2.85" fill="url(#pg)"/>
<circle cx="606.04" cy="227.12" r="2.85" fill="url(#pg)"/>
<circle cx="607.05" cy="227.12" r="2.85" fill="url(#pg)"/>
<circle cx="608.05" cy="227.13" r="2.85" fill="url(#pg)"/>
<circle cx="609.05" cy="227.13" r="2.85" fill="url(#pg)"/>
<circle cx="610.05" cy="227.15" r="2.85" fill="url(#pg)"/>
<circle cx="611.06" cy="227.17" r="2.85" fill="url(#pg)"/>
<circle cx="612.06" cy="227.19" r="2.85" fill="url(#pg)"/>
<circle cx="613.06" cy="227.22" r="2.85" fill="url(#pg)"/>
<circle cx="614.06" cy="227.26" r="2.85" fill="url(#pg)"/>
<circle cx="615.07" cy="227.3" r="2.85" fill="url(#pg)"/>
<circle cx="616.07" cy="227.35" r="2.85" fill="url(#pg)"/>
<circle cx="617.07" cy="227.4" r="2.85" fill="url(#pg)"/>
<circle cx="618.07" cy="227.45" r="2.85" fill="url(#pg)"/>
<circle cx="619.07" cy="227.5" r="2.85" fill="url(#pg)"/>
<circle cx="620.08" cy="227.56" r="2.85" fill="url(#pg)"/>
<circle cx="621.08" cy="227.62" r="2.85" fill="url(#pg)"/>
<circle cx="622.08" cy="227.68" r="2.85" fill="url(#pg)"/>
<circle cx="623.08" cy="227.74" r="2.85" fill="url(#pg)"/>
<circle cx="624.09" cy="227.8" r="2.85" fill="url(#pg)"/>
<circle cx="625.09" cy="227.86" r="2.85" fill="url(#pg)"/>
<circle cx="626.09" cy="227.92" r="2.85" fill="url(#pg)"/>
<circle cx="627.09" cy="227.99" r="2.85" fill="url(#pg)"/>
<circle cx="628.1" cy="228.06" r="2.85" fill="url(#pg)"/>
<circle cx="629.1" cy="228.13" r="2.85" fill="url(#pg)"/>
<circle cx="630.1" cy="228.2" r="2.85" fill="url(#pg)"/>
<circle cx="631.1" cy="228.27" r="2.85" fill="url(#pg)"/>
<circle cx="632.11" cy="228.35" r="2.85" fill="url(#pg)"/>
<circle cx="633.11" cy="228.43" r="2.85" fill="url(#pg)"/>
<circle cx="634.11" cy="228.51" r="2.85" fill="url(#pg)"/>
<circle cx="635.11" cy="228.59" r="2.85" fill="url(#pg)"/>
<circle cx="636.11" cy="228.68" r="2.85" fill="url(#pg)"/>
<circle cx="637.12" cy="228.76" r="2.85" fill="url(#pg)"/>
<circle cx="638.12" cy="228.85" r="2.85" fill="url(#pg)"/>
<circle cx="639.12" cy="228.94" r="2.85" fill="url(#pg)"/>
<circle cx="640.12" cy="229.03" r="2.85" fill="url(#pg)"/>
<circle cx="641.13" cy="229.13" r="2.85" fill="url(#pg)"/>
<circle cx="642.13" cy="229.22" r="2.85" fill="url(#pg)"/>
<circle cx="643.13" cy="229.32" r="2.85" fill="url(#pg)"/>
<circle cx="644.13" cy="229.42" r="2.85" fill="url(#pg)"/>
<circle cx="645.14" cy="229.52" r="2.85" fill="url(#pg)"/>
<circle cx="646.14" cy="229.63" r="2.85" fill="url(#pg)"/>
<circle cx="647.14" cy="229.73" r="2.85" fill="url(#pg)"/>
<circle cx="648.14" cy="229.84" r="2.85" fill="url(#pg)"/>
<circle cx="649.15" cy="229.95" r="2.85" fill="url(#pg)"/>
<circle cx="650.15" cy="230.07" r="2.85" fill="url(#pg)"/>
<circle cx="651.15" cy="230.18" r="2.85" fill="url(#pg)"/>
<circle cx="652.15" cy="230.3" r="2.85" fill="url(#pg)"/>
<circle cx="653.16" cy="230.42" r="2.85" fill="url(#pg)"/>
<circle cx="654.16" cy="230.54" r="2.85" fill="url(#pg)"/>
<circle cx="655.16" cy="230.67" r="2.85" fill="url(#pg)"/>
<circle cx="656.16" cy="230.8" r="2.85" fill="url(#pg)"/>
<circle cx="657.16" cy="230.94" r="2.85" fill="url(#pg)"/>
<circle cx="658.17" cy="231.07" r="2.85" fill="url(#pg)"/>
<circle cx="659.17" cy="231.21" r="2.85" fill="url(#pg)"/>
<circle cx="660.17" cy="231.35" r="2.85" fill="url(#pg)"/>
<circle cx="661.17" cy="231.49" r="2.85" fill="url(#pg)"/>
<circle cx="662.18" cy="231.64" r="2.85" fill="url(#pg)"/>
<circle cx="663.18" cy="231.78" r="2.85" fill="url(#pg)"/>
<circle cx="664.18" cy="231.93" r="2.85" fill="url(#pg)"/>
<circle cx="665.18" cy="232.07" r="2.85" fill="url(#pg)"/>
<circle cx="666.19" cy="232.22" r="2.85" fill="url(#pg)"/>
<circle cx="667.19" cy="232.37" r="2.85" fill="url(#pg)"/>
<circle cx="668.19" cy="232.51" r="2.85" fill="url(#pg)"/>
<circle cx="669.19" cy="232.66" r="2.85" fill="url(#pg)"/>
<circle cx="670.2" cy="232.81" r="2.85" fill="url(#pg)"/>
<circle cx="671.2" cy="232.96" r="2.85" fill="url(#pg)"/>
<circle cx="672.2" cy="233.1" r="2.85" fill="url(#pg)"/>
<circle cx="502.8" cy="208.2" r="2.65" fill="#fff" stroke="#0a7c0a" stroke-width="0.6"/>
<path d="M500.15,208.2 A2.65,2.65 0 0 1 505.45,208.2 Z" fill="#0a7c0a"/>
<circle cx="503.26" cy="210.44" r="2.65" fill="#fff" stroke="#0a7c0a" stroke-width="0.6"/>
<path d="M500.61,210.44 A2.65,2.65 0 0 1 505.91,210.44 Z" fill="#0a7c0a"/>
<circle cx="503.85" cy="213.27" r="2.65" fill="#fff" stroke="#0a7c0a" stroke-width="0.6"/>
<path d="M501.2,213.27 A2.65,2.65 0 0 1 506.5,213.27 Z" fill="#0a7c0a"/>
<circle cx="504.5" cy="215.95" r="2.65" fill="#fff" stroke="#0a7c0a" stroke-width="0.6"/>
<path d="M501.85,215.95 A2.65,2.65 0 0 1 507.15,215.95 Z" fill="#0a7c0a"/>
<circle cx="505.2" cy="218.16" r="2.65" fill="#fff" stroke="#0a7c0a" stroke-width="0.6"/>
<path d="M502.55,218.16 A2.65,2.65 0 0 1 507.85,218.16 Z" fill="#0a7c0a"/>
<circle cx="505.94" cy="220.1" r="2.65" fill="#fff" stroke="#0a7c0a" stroke-width="0.6"/>
<path d="M503.29,220.1 A2.65,2.65 0 0 1 508.59,220.1 Z" fill="#0a7c0a"/>
<circle cx="506.71" cy="221.89" r="2.65" fill="#fff" stroke="#0a7c0a" stroke-width="0.6"/>
<path d="M504.06,221.89 A2.65,2.65 0 0 1 509.36,221.89 Z" fill="#0a7c0a"/>
<circle cx="507.5" cy="223.67" r="2.65" fill="#fff" stroke="#0a7c0a" stroke-width="0.6"/>
<path d="M504.85,223.67 A2.65,2.65 0 0 1 510.15,223.67 Z" fill="#0a7c0a"/>
<circle cx="508.32" cy="225.45" r="2.65" fill="#fff" stroke="#0a7c0a" stroke-width="0.6"/>
<path d="M505.67,225.45 A2.65,2.65 0 0 1 510.97,225.45 Z" fill="#0a7c0a"/>
<circle cx="509.16" cy="227.2" r="2.65" fill="#fff" stroke="#0a7c0a" stroke-width="0.6"/>
<path d="M506.51,227.2 A2.65,2.65 0 0 1 511.81,227.2 Z" fill="#0a7c0a"/>
<circle cx="510.01" cy="228.89" r="2.65" fill="#fff" stroke="#0a7c0a" stroke-width="0.6"/>
<path d="M507.36,228.89 A2.65,2.65 0 0 1 512.66,228.89 Z" fill="#0a7c0a"/>
<circle cx="510.89" cy="230.47" r="2.65" fill="#fff" stroke="#0a7c0a" stroke-width="0.6"/>
<path d="M508.24,230.47 A2.65,2.65 0 0 1 513.54,230.47 Z" fill="#0a7c0a"/>
<circle cx="511.78" cy="231.92" r="2.65" fill="#fff" stroke="#0a7c0a" stroke-width="0.6"/>
<path d="M509.13,231.92 A2.65,2.65 0 0 1 514.43,231.92 Z" fill="#0a7c0a"/>
<circle cx="512.68" cy="233.28" r="2.65" fill="#fff" stroke="#0a7c0a" stroke-width="0.6"/>
<path d="M510.03,233.28 A2.65,2.65 0 0 1 515.33,233.28 Z" fill="#0a7c0a"/>
<circle cx="513.6" cy="234.55" r="2.65" fill="#fff" stroke="#0a7c0a" stroke-width="0.6"/>
<path d="M510.95,234.55 A2.65,2.65 0 0 1 516.25,234.55 Z" fill="#0a7c0a"/>
<circle cx="514.53" cy="235.75" r="2.65" fill="#fff" stroke="#0a7c0a" stroke-width="0.6"/>
<path d="M511.88,235.75 A2.65,2.65 0 0 1 517.18,235.75 Z" fill="#0a7c0a"/>
<circle cx="515.48" cy="236.89" r="2.65" fill="#fff" stroke="#0a7c0a" stroke-width="0.6"/>
<path d="M512.83,236.89 A2.65,2.65 0 0 1 518.13,236.89 Z" fill="#0a7c0a"/>
<circle cx="516.43" cy="237.99" r="2.65" fill="#fff" stroke="#0a7c0a" stroke-width="0.6"/>
<path d="M513.78,237.99 A2.65,2.65 0 0 1 519.08,237.99 Z" fill="#0a7c0a"/>
<circle cx="517.4" cy="239.05" r="2.65" fill="#fff" stroke="#0a7c0a" stroke-width="0.6"/>
<path d="M514.75,239.05 A2.65,2.65 0 0 1 520.05,239.05 Z" fill="#0a7c0a"/>
<circle cx="518.38" cy="240.08" r="2.65" fill="#fff" stroke="#0a7c0a" stroke-width="0.6"/>
<path d="M515.73,240.08 A2.65,2.65 0 0 1 521.03,240.08 Z" fill="#0a7c0a"/>
<circle cx="519.37" cy="241.07" r="2.65" fill="#fff" stroke="#0a7c0a" stroke-width="0.6"/>
<path d="M516.72,241.07 A2.65,2.65 0 0 1 522.02,241.07 Z" fill="#0a7c0a"/>
<circle cx="520.37" cy="242.04" r="2.65" fill="#fff" stroke="#0a7c0a" stroke-width="0.6"/>
<path d="M517.72,242.04 A2.65,2.65 0 0 1 523.02,242.04 Z" fill="#0a7c0a"/>
<circle cx="521.38" cy="242.98" r="2.65" fill="#fff" stroke="#0a7c0a" stroke-width="0.6"/>
<path d="M518.73,242.98 A2.65,2.65 0 0 1 524.03,242.98 Z" fill="#0a7c0a"/>
<circle cx="522.39" cy="243.9" r="2.65" fill="#fff" stroke="#0a7c0a" stroke-width="0.6"/>
<path d="M519.74,243.9 A2.65,2.65 0 0 1 525.04,243.9 Z" fill="#0a7c0a"/>
<circle cx="523.42" cy="244.8" r="2.65" fill="#fff" stroke="#0a7c0a" stroke-width="0.6"/>
<path d="M520.77,244.8 A2.65,2.65 0 0 1 526.07,244.8 Z" fill="#0a7c0a"/>
<circle cx="524.46" cy="245.69" r="2.65" fill="#fff" stroke="#0a7c0a" stroke-width="0.6"/>
<path d="M521.81,245.69 A2.65,2.65 0 0 1 527.11,245.69 Z" fill="#0a7c0a"/>
<circle cx="525.5" cy="246.56" r="2.65" fill="#fff" stroke="#0a7c0a" stroke-width="0.6"/>
<path d="M522.85,246.56 A2.65,2.65 0 0 1 528.15,246.56 Z" fill="#0a7c0a"/>
<circle cx="526.55" cy="247.42" r="2.65" fill="#fff" stroke="#0a7c0a" stroke-width="0.6"/>
<path d="M523.9,247.42 A2.65,2.65 0 0 1 529.2,247.42 Z" fill="#0a7c0a"/>
<circle cx="527.61" cy="248.25" r="2.65" fill="#fff" stroke="#0a7c0a" stroke-width="0.6"/>
<path d="M524.96,248.25 A2.65,2.65 0 0 1 530.26,248.25 Z" fill="#0a7c0a"/>
<circle cx="528.68" cy="249.06" r="2.65" fill="#fff" stroke="#0a7c0a" stroke-width="0.6"/>
<path d="M526.03,249.06 A2.65,2.65 0 0 1 531.33,249.06 Z" fill="#0a7c0a"/>
<circle cx="529.75" cy="249.84" r="2.65" fill="#fff" stroke="#0a7c0a" stroke-width="0.6"/>
<path d="M527.1,249.84 A2.65,2.65 0 0 1 532.4,249.84 Z" fill="#0a7c0a"/>
<circle cx="530.83" cy="250.6" r="2.65" fill="#fff" stroke="#0a7c0a" stroke-width="0.6"/>
<path d="M528.18,250.6 A2.65,2.65 0 0 1 533.48,250.6 Z" fill="#0a7c0a"/>
<circle cx="531.92" cy="251.36" r="2.65" fill="#fff" stroke="#0a7c0a" stroke-width="0.6"/>
<path d="M529.27,251.36 A2.65,2.65 0 0 1 534.57,251.36 Z" fill="#0a7c0a"/>
<circle cx="533.02" cy="252.11" r="2.65" fill="#fff" stroke="#0a7c0a" stroke-width="0.6"/>
<path d="M530.37,252.11 A2.65,2.65 0 0 1 535.67,252.11 Z" fill="#0a7c0a"/>
<circle cx="534.12" cy="252.84" r="2.65" fill="#fff" stroke="#0a7c0a" stroke-width="0.6"/>
<path d="M531.47,252.84 A2.65,2.65 0 0 1 536.77,252.84 Z" fill="#0a7c0a"/>
<circle cx="535.23" cy="253.55" r="2.65" fill="#fff" stroke="#0a7c0a" stroke-width="0.6"/>
<path d="M532.58,253.55 A2.65,2.65 0 0 1 537.88,253.55 Z" fill="#0a7c0a"/>
<circle cx="536.34" cy="254.23" r="2.65" fill="#fff" stroke="#0a7c0a" stroke-width="0.6"/>
<path d="M533.69,254.23 A2.65,2.65 0 0 1 538.99,254.23 Z" fill="#0a7c0a"/>
<circle cx="537.47" cy="254.88" r="2.65" fill="#fff" stroke="#0a7c0a" stroke-width="0.6"/>
<path d="M534.82,254.88 A2.65,2.65 0 0 1 540.12,254.88 Z" fill="#0a7c0a"/>
<circle cx="538.59" cy="255.52" r="2.65" fill="#fff" stroke="#0a7c0a" stroke-width="0.6"/>
<path d="M535.94,255.52 A2.65,2.65 0 0 1 541.24,255.52 Z" fill="#0a7c0a"/>
<circle cx="539.73" cy="256.14" r="2.65" fill="#fff" stroke="#0a7c0a" stroke-width="0.6"/>
<path d="M537.08,256.14 A2.65,2.65 0 0 1 542.38,256.14 Z" fill="#0a7c0a"/>
<circle cx="540.87" cy="256.75" r="2.65" fill="#fff" stroke="#0a7c0a" stroke-width="0.6"/>
<path d="M538.22,256.75 A2.65,2.65 0 0 1 543.52,256.75 Z" fill="#0a7c0a"/>
<circle cx="542.01" cy="257.36" r="2.65" fill="#fff" stroke="#0a7c0a" stroke-width="0.6"/>
<path d="M539.36,257.36 A2.65,2.65 0 0 1 544.66,257.36 Z" fill="#0a7c0a"/>
<circle cx="543.16" cy="257.97" r="2.65" fill="#fff" stroke="#0a7c0a" stroke-width="0.6"/>
<path d="M540.51,257.97 A2.65,2.65 0 0 1 545.81,257.97 Z" fill="#0a7c0a"/>
<circle cx="544.32" cy="258.58" r="2.65" fill="#fff" stroke="#0a7c0a" stroke-width="0.6"/>
<path d="M541.67,258.58 A2.65,2.65 0 0 1 546.97,258.58 Z" fill="#0a7c0a"/>
<circle cx="545.48" cy="259.18" r="2.65" fill="#fff" stroke="#0a7c0a" stroke-width="0.6"/>
<path d="M542.83,259.18 A2.65,2.65 0 0 1 548.13,259.18 Z" fill="#0a7c0a"/>
<circle cx="546.64" cy="259.79" r="2.65" fill="#fff" stroke="#0a7c0a" stroke-width="0.6"/>
<path d="M543.99,259.79 A2.65,2.65 0 0 1 549.29,259.79 Z" fill="#0a7c0a"/>
<circle cx="547.82" cy="260.39" r="2.65" fill="#fff" stroke="#0a7c0a" stroke-width="0.6"/>
<path d="M545.17,260.39 A2.65,2.65 0 0 1 550.47,260.39 Z" fill="#0a7c0a"/>
<circle cx="548.99" cy="260.99" r="2.65" fill="#fff" stroke="#0a7c0a" stroke-width="0.6"/>
<path d="M546.34,260.99 A2.65,2.65 0 0 1 551.64,260.99 Z" fill="#0a7c0a"/>
<circle cx="550.18" cy="261.58" r="2.65" fill="#fff" stroke="#0a7c0a" stroke-width="0.6"/>
<path d="M547.53,261.58 A2.65,2.65 0 0 1 552.83,261.58 Z" fill="#0a7c0a"/>
<circle cx="551.36" cy="262.17" r="2.65" fill="#fff" stroke="#0a7c0a" stroke-width="0.6"/>
<path d="M548.71,262.17 A2.65,2.65 0 0 1 554.01,262.17 Z" fill="#0a7c0a"/>
<circle cx="552.55" cy="262.75" r="2.65" fill="#fff" stroke="#0a7c0a" stroke-width="0.6"/>
<path d="M549.9,262.75 A2.65,2.65 0 0 1 555.2,262.75 Z" fill="#0a7c0a"/>
<circle cx="553.75" cy="263.32" r="2.65" fill="#fff" stroke="#0a7c0a" stroke-width="0.6"/>
<path d="M551.1,263.32 A2.65,2.65 0 0 1 556.4,263.32 Z" fill="#0a7c0a"/>
<circle cx="554.95" cy="263.89" r="2.65" fill="#fff" stroke="#0a7c0a" stroke-width="0.6"/>
<path d="M552.3,263.89 A2.65,2.65 0 0 1 557.6,263.89 Z" fill="#0a7c0a"/>
<circle cx="556.16" cy="264.44" r="2.65" fill="#fff" stroke="#0a7c0a" stroke-width="0.6"/>
<path d="M553.51,264.44 A2.65,2.65 0 0 1 558.81,264.44 Z" fill="#0a7c0a"/>
<circle cx="557.37" cy="264.98" r="2.65" fill="#fff" stroke="#0a7c0a" stroke-width="0.6"/>
<path d="M554.72,264.98 A2.65,2.65 0 0 1 560.02,264.98 Z" fill="#0a7c0a"/>
<circle cx="558.58" cy="265.51" r="2.65" fill="#fff" stroke="#0a7c0a" stroke-width="0.6"/>
<path d="M555.93,265.51 A2.65,2.65 0 0 1 561.23,265.51 Z" fill="#0a7c0a"/>
<circle cx="559.8" cy="266.02" r="2.65" fill="#fff" stroke="#0a7c0a" stroke-width="0.6"/>
<path d="M557.15,266.02 A2.65,2.65 0 0 1 562.45,266.02 Z" fill="#0a7c0a"/>
<circle cx="561.03" cy="266.51" r="2.65" fill="#fff" stroke="#0a7c0a" stroke-width="0.6"/>
<path d="M558.38,266.51 A2.65,2.65 0 0 1 563.68,266.51 Z" fill="#0a7c0a"/>
<circle cx="562.25" cy="266.98" r="2.65" fill="#fff" stroke="#0a7c0a" stroke-width="0.6"/>
<path d="M559.6,266.98 A2.65,2.65 0 0 1 564.9,266.98 Z" fill="#0a7c0a"/>
<circle cx="563.49" cy="267.44" r="2.65" fill="#fff" stroke="#0a7c0a" stroke-width="0.6"/>
<path d="M560.84,267.44 A2.65,2.65 0 0 1 566.14,267.44 Z" fill="#0a7c0a"/>
<circle cx="564.72" cy="267.88" r="2.65" fill="#fff" stroke="#0a7c0a" stroke-width="0.6"/>
<path d="M562.07,267.88 A2.65,2.65 0 0 1 567.37,267.88 Z" fill="#0a7c0a"/>
<circle cx="565.96" cy="268.31" r="2.65" fill="#fff" stroke="#0a7c0a" stroke-width="0.6"/>
<path d="M563.31,268.31 A2.65,2.65 0 0 1 568.61,268.31 Z" fill="#0a7c0a"/>
<circle cx="567.21" cy="268.73" r="2.65" fill="#fff" stroke="#0a7c0a" stroke-width="0.6"/>
<path d="M564.56,268.73 A2.65,2.65 0 0 1 569.86,268.73 Z" fill="#0a7c0a"/>
<circle cx="568.46" cy="269.14" r="2.65" fill="#fff" stroke="#0a7c0a" stroke-width="0.6"/>
<path d="M565.81,269.14 A2.65,2.65 0 0 1 571.11,269.14 Z" fill="#0a7c0a"/>
<circle cx="569.71" cy="269.53" r="2.65" fill="#fff" stroke="#0a7c0a" stroke-width="0.6"/>
<path d="M567.06,269.53 A2.65,2.65 0 0 1 572.36,269.53 Z" fill="#0a7c0a"/>
<circle cx="570.96" cy="269.93" r="2.65" fill="#fff" stroke="#0a7c0a" stroke-width="0.6"/>
<path d="M568.31,269.93 A2.65,2.65 0 0 1 573.61,269.93 Z" fill="#0a7c0a"/>
<circle cx="572.23" cy="270.31" r="2.65" fill="#fff" stroke="#0a7c0a" stroke-width="0.6"/>
<path d="M569.58,270.31 A2.65,2.65 0 0 1 574.88,270.31 Z" fill="#0a7c0a"/>
<circle cx="573.49" cy="270.69" r="2.65" fill="#fff" stroke="#0a7c0a" stroke-width="0.6"/>
<path d="M570.84,270.69 A2.65,2.65 0 0 1 576.14,270.69 Z" fill="#0a7c0a"/>
<circle cx="574.76" cy="271.06" r="2.65" fill="#fff" stroke="#0a7c0a" stroke-width="0.6"/>
<path d="M572.11,271.06 A2.65,2.65 0 0 1 577.41,271.06 Z" fill="#0a7c0a"/>
<circle cx="576.03" cy="271.44" r="2.65" fill="#fff" stroke="#0a7c0a" stroke-width="0.6"/>
<path d="M573.38,271.44 A2.65,2.65 0 0 1 578.68,271.44 Z" fill="#0a7c0a"/>
<circle cx="577.3" cy="271.81" r="2.65" fill="#fff" stroke="#0a7c0a" stroke-width="0.6"/>
<path d="M574.65,271.81 A2.65,2.65 0 0 1 579.95,271.81 Z" fill="#0a7c0a"/>
<circle cx="578.58" cy="272.18" r="2.65" fill="#fff" stroke="#0a7c0a" stroke-width="0.6"/>
<path d="M575.93,272.18 A2.65,2.65 0 0 1 581.23,272.18 Z" fill="#0a7c0a"/>
<circle cx="579.87" cy="272.56" r="2.65" fill="#fff" stroke="#0a7c0a" stroke-width="0.6"/>
<path d="M577.22,272.56 A2.65,2.65 0 0 1 582.52,272.56 Z" fill="#0a7c0a"/>
<circle cx="581.15" cy="272.94" r="2.65" fill="#fff" stroke="#0a7c0a" stroke-width="0.6"/>
<path d="M578.5,272.94 A2.65,2.65 0 0 1 583.8,272.94 Z" fill="#0a7c0a"/>
<circle cx="582.44" cy="273.31" r="2.65" fill="#fff" stroke="#0a7c0a" stroke-width="0.6"/>
<path d="M579.79,273.31 A2.65,2.65 0 0 1 585.09,273.31 Z" fill="#0a7c0a"/>
<circle cx="583.74" cy="273.68" r="2.65" fill="#fff" stroke="#0a7c0a" stroke-width="0.6"/>
<path d="M581.09,273.68 A2.65,2.65 0 0 1 586.39,273.68 Z" fill="#0a7c0a"/>
<circle cx="585.03" cy="274.05" r="2.65" fill="#fff" stroke="#0a7c0a" stroke-width="0.6"/>
<path d="M582.38,274.05 A2.65,2.65 0 0 1 587.68,274.05 Z" fill="#0a7c0a"/>
<circle cx="586.33" cy="274.41" r="2.65" fill="#fff" stroke="#0a7c0a" stroke-width="0.6"/>
<path d="M583.68,274.41 A2.65,2.65 0 0 1 588.98,274.41 Z" fill="#0a7c0a"/>
<circle cx="587.64" cy="274.77" r="2.65" fill="#fff" stroke="#0a7c0a" stroke-width="0.6"/>
<path d="M584.99,274.77 A2.65,2.65 0 0 1 590.29,274.77 Z" fill="#0a7c0a"/>
<circle cx="588.94" cy="275.12" r="2.65" fill="#fff" stroke="#0a7c0a" stroke-width="0.6"/>
<path d="M586.29,275.12 A2.65,2.65 0 0 1 591.59,275.12 Z" fill="#0a7c0a"/>
<circle cx="590.25" cy="275.47" r="2.65" fill="#fff" stroke="#0a7c0a" stroke-width="0.6"/>
<path d="M587.6,275.47 A2.65,2.65 0 0 1 592.9,275.47 Z" fill="#0a7c0a"/>
<circle cx="591.57" cy="275.82" r="2.65" fill="#fff" stroke="#0a7c0a" stroke-width="0.6"/>
<path d="M588.92,275.82 A2.65,2.65 0 0 1 594.22,275.82 Z" fill="#0a7c0a"/>
<circle cx="592.88" cy="276.16" r="2.65" fill="#fff" stroke="#0a7c0a" stroke-width="0.6"/>
<path d="M590.23,276.16 A2.65,2.65 0 0 1 595.53,276.16 Z" fill="#0a7c0a"/>
<circle cx="594.2" cy="276.49" r="2.65" fill="#fff" stroke="#0a7c0a" stroke-width="0.6"/>
<path d="M591.55,276.49 A2.65,2.65 0 0 1 596.85,276.49 Z" fill="#0a7c0a"/>
<circle cx="595.53" cy="276.82" r="2.65" fill="#fff" stroke="#0a7c0a" stroke-width="0.6"/>
<path d="M592.88,276.82 A2.65,2.65 0 0 1 598.18,276.82 Z" fill="#0a7c0a"/>
<circle cx="596.85" cy="277.15" r="2.65" fill="#fff" stroke="#0a7c0a" stroke-width="0.6"/>
<path d="M594.2,277.15 A2.65,2.65 0 0 1 599.5,277.15 Z" fill="#0a7c0a"/>
<circle cx="598.18" cy="277.47" r="2.65" fill="#fff" stroke="#0a7c0a" stroke-width="0.6"/>
<path d="M595.53,277.47 A2.65,2.65 0 0 1 600.83,277.47 Z" fill="#0a7c0a"/>
<circle cx="599.51" cy="277.79" r="2.65" fill="#fff" stroke="#0a7c0a" stroke-width="0.6"/>
<path d="M596.86,277.79 A2.65,2.65 0 0 1 602.16,277.79 Z" fill="#0a7c0a"/>
<circle cx="600.85" cy="278.1" r="2.65" fill="#fff" stroke="#0a7c0a" stroke-width="0.6"/>
<path d="M598.2,278.1 A2.65,2.65 0 0 1 603.5,278.1 Z" fill="#0a7c0a"/>
<circle cx="602.19" cy="278.4" r="2.65" fill="#fff" stroke="#0a7c0a" stroke-width="0.6"/>
<path d="M599.54,278.4 A2.65,2.65 0 0 1 604.84,278.4 Z" fill="#0a7c0a"/>
<circle cx="603.53" cy="278.69" r="2.65" fill="#fff" stroke="#0a7c0a" stroke-width="0.6"/>
<path d="M600.88,278.69 A2.65,2.65 0 0 1 606.18,278.69 Z" fill="#0a7c0a"/>
<circle cx="604.87" cy="278.98" r="2.65" fill="#fff" stroke="#0a7c0a" stroke-width="0.6"/>
<path d="M602.22,278.98 A2.65,2.65 0 0 1 607.52,278.98 Z" fill="#0a7c0a"/>
<circle cx="606.22" cy="279.26" r="2.65" fill="#fff" stroke="#0a7c0a" stroke-width="0.6"/>
<path d="M603.57,279.26 A2.65,2.65 0 0 1 608.87,279.26 Z" fill="#0a7c0a"/>
<circle cx="607.57" cy="279.54" r="2.65" fill="#fff" stroke="#0a7c0a" stroke-width="0.6"/>
<path d="M604.92,279.54 A2.65,2.65 0 0 1 610.22,279.54 Z" fill="#0a7c0a"/>
<circle cx="608.92" cy="279.82" r="2.65" fill="#fff" stroke="#0a7c0a" stroke-width="0.6"/>
<path d="M606.27,279.82 A2.65,2.65 0 0 1 611.57,279.82 Z" fill="#0a7c0a"/>
<circle cx="610.28" cy="280.09" r="2.65" fill="#fff" stroke="#0a7c0a" stroke-width="0.6"/>
<path d="M607.63,280.09 A2.65,2.65 0 0 1 612.93,280.09 Z" fill="#0a7c0a"/>
<circle cx="611.64" cy="280.36" r="2.65" fill="#fff" stroke="#0a7c0a" stroke-width="0.6"/>
<path d="M608.99,280.36 A2.65,2.65 0 0 1 614.29,280.36 Z" fill="#0a7c0a"/>
<circle cx="613" cy="280.63" r="2.65" fill="#fff" stroke="#0a7c0a" stroke-width="0.6"/>
<path d="M610.35,280.63 A2.65,2.65 0 0 1 615.65,280.63 Z" fill="#0a7c0a"/>
<circle cx="614.37" cy="280.91" r="2.65" fill="#fff" stroke="#0a7c0a" stroke-width="0.6"/>
<path d="M611.72,280.91 A2.65,2.65 0 0 1 617.02,280.91 Z" fill="#0a7c0a"/>
<circle cx="615.73" cy="281.18" r="2.65" fill="#fff" stroke="#0a7c0a" stroke-width="0.6"/>
<path d="M613.08,281.18 A2.65,2.65 0 0 1 618.38,281.18 Z" fill="#0a7c0a"/>
<circle cx="617.1" cy="281.46" r="2.65" fill="#fff" stroke="#0a7c0a" stroke-width="0.6"/>
<path d="M614.45,281.46 A2.65,2.65 0 0 1 619.75,281.46 Z" fill="#0a7c0a"/>
<circle cx="618.48" cy="281.74" r="2.65" fill="#fff" stroke="#0a7c0a" stroke-width="0.6"/>
<path d="M615.83,281.74 A2.65,2.65 0 0 1 621.13,281.74 Z" fill="#0a7c0a"/>
<circle cx="619.85" cy="282.03" r="2.65" fill="#fff" stroke="#0a7c0a" stroke-width="0.6"/>
<path d="M617.2,282.03 A2.65,2.65 0 0 1 622.5,282.03 Z" fill="#0a7c0a"/>
<circle cx="621.23" cy="282.32" r="2.65" fill="#fff" stroke="#0a7c0a" stroke-width="0.6"/>
<path d="M618.58,282.32 A2.65,2.65 0 0 1 623.88,282.32 Z" fill="#0a7c0a"/>
<circle cx="622.61" cy="282.62" r="2.65" fill="#fff" stroke="#0a7c0a" stroke-width="0.6"/>
<path d="M619.96,282.62 A2.65,2.65 0 0 1 625.26,282.62 Z" fill="#0a7c0a"/>
<circle cx="624" cy="282.93" r="2.65" fill="#fff" stroke="#0a7c0a" stroke-width="0.6"/>
<path d="M621.35,282.93 A2.65,2.65 0 0 1 626.65,282.93 Z" fill="#0a7c0a"/>
<circle cx="625.38" cy="283.25" r="2.65" fill="#fff" stroke="#0a7c0a" stroke-width="0.6"/>
<path d="M622.73,283.25 A2.65,2.65 0 0 1 628.03,283.25 Z" fill="#0a7c0a"/>
<circle cx="626.77" cy="283.58" r="2.65" fill="#fff" stroke="#0a7c0a" stroke-width="0.6"/>
<path d="M624.12,283.58 A2.65,2.65 0 0 1 629.42,283.58 Z" fill="#0a7c0a"/>
<circle cx="628.16" cy="283.9" r="2.65" fill="#fff" stroke="#0a7c0a" stroke-width="0.6"/>
<path d="M625.51,283.9 A2.65,2.65 0 0 1 630.81,283.9 Z" fill="#0a7c0a"/>
<circle cx="629.56" cy="284.24" r="2.65" fill="#fff" stroke="#0a7c0a" stroke-width="0.6"/>
<path d="M626.91,284.24 A2.65,2.65 0 0 1 632.21,284.24 Z" fill="#0a7c0a"/>
<circle cx="630.95" cy="284.58" r="2.65" fill="#fff" stroke="#0a7c0a" stroke-width="0.6"/>
<path d="M628.3,284.58 A2.65,2.65 0 0 1 633.6,284.58 Z" fill="#0a7c0a"/>
<circle cx="632.35" cy="284.92" r="2.65" fill="#fff" stroke="#0a7c0a" stroke-width="0.6"/>
<path d="M629.7,284.92 A2.65,2.65 0 0 1 635,284.92 Z" fill="#0a7c0a"/>
<circle cx="633.76" cy="285.26" r="2.65" fill="#fff" stroke="#0a7c0a" stroke-width="0.6"/>
<path d="M631.11,285.26 A2.65,2.65 0 0 1 636.41,285.26 Z" fill="#0a7c0a"/>
<circle cx="635.16" cy="285.61" r="2.65" fill="#fff" stroke="#0a7c0a" stroke-width="0.6"/>
<path d="M632.51,285.61 A2.65,2.65 0 0 1 637.81,285.61 Z" fill="#0a7c0a"/>
<circle cx="636.57" cy="285.95" r="2.65" fill="#fff" stroke="#0a7c0a" stroke-width="0.6"/>
<path d="M633.92,285.95 A2.65,2.65 0 0 1 639.22,285.95 Z" fill="#0a7c0a"/>
<circle cx="637.98" cy="286.3" r="2.65" fill="#fff" stroke="#0a7c0a" stroke-width="0.6"/>
<path d="M635.33,286.3 A2.65,2.65 0 0 1 640.63,286.3 Z" fill="#0a7c0a"/>
<circle cx="639.39" cy="286.65" r="2.65" fill="#fff" stroke="#0a7c0a" stroke-width="0.6"/>
<path d="M636.74,286.65 A2.65,2.65 0 0 1 642.04,286.65 Z" fill="#0a7c0a"/>
<circle cx="640.8" cy="286.99" r="2.65" fill="#fff" stroke="#0a7c0a" stroke-width="0.6"/>
<path d="M638.15,286.99 A2.65,2.65 0 0 1 643.45,286.99 Z" fill="#0a7c0a"/>
<circle cx="642.22" cy="287.34" r="2.65" fill="#fff" stroke="#0a7c0a" stroke-width="0.6"/>
<path d="M639.57,287.34 A2.65,2.65 0 0 1 644.87,287.34 Z" fill="#0a7c0a"/>
<circle cx="643.64" cy="287.68" r="2.65" fill="#fff" stroke="#0a7c0a" stroke-width="0.6"/>
<path d="M640.99,287.68 A2.65,2.65 0 0 1 646.29,287.68 Z" fill="#0a7c0a"/>
<circle cx="645.06" cy="288.02" r="2.65" fill="#fff" stroke="#0a7c0a" stroke-width="0.6"/>
<path d="M642.41,288.02 A2.65,2.65 0 0 1 647.71,288.02 Z" fill="#0a7c0a"/>
<circle cx="646.48" cy="288.35" r="2.65" fill="#fff" stroke="#0a7c0a" stroke-width="0.6"/>
<path d="M643.83,288.35 A2.65,2.65 0 0 1 649.13,288.35 Z" fill="#0a7c0a"/>
<circle cx="647.91" cy="288.68" r="2.65" fill="#fff" stroke="#0a7c0a" stroke-width="0.6"/>
<path d="M645.26,288.68 A2.65,2.65 0 0 1 650.56,288.68 Z" fill="#0a7c0a"/>
<circle cx="649.34" cy="289.01" r="2.65" fill="#fff" stroke="#0a7c0a" stroke-width="0.6"/>
<path d="M646.69,289.01 A2.65,2.65 0 0 1 651.99,289.01 Z" fill="#0a7c0a"/>
<circle cx="650.77" cy="289.33" r="2.65" fill="#fff" stroke="#0a7c0a" stroke-width="0.6"/>
<path d="M648.12,289.33 A2.65,2.65 0 0 1 653.42,289.33 Z" fill="#0a7c0a"/>
<circle cx="652.2" cy="289.66" r="2.65" fill="#fff" stroke="#0a7c0a" stroke-width="0.6"/>
<path d="M649.55,289.66 A2.65,2.65 0 0 1 654.85,289.66 Z" fill="#0a7c0a"/>
<circle cx="653.64" cy="289.99" r="2.65" fill="#fff" stroke="#0a7c0a" stroke-width="0.6"/>
<path d="M650.99,289.99 A2.65,2.65 0 0 1 656.29,289.99 Z" fill="#0a7c0a"/>
<circle cx="655.07" cy="290.31" r="2.65" fill="#fff" stroke="#0a7c0a" stroke-width="0.6"/>
<path d="M652.42,290.31 A2.65,2.65 0 0 1 657.72,290.31 Z" fill="#0a7c0a"/>
<circle cx="656.51" cy="290.63" r="2.65" fill="#fff" stroke="#0a7c0a" stroke-width="0.6"/>
<path d="M653.86,290.63 A2.65,2.65 0 0 1 659.16,290.63 Z" fill="#0a7c0a"/>
<circle cx="657.96" cy="290.96" r="2.65" fill="#fff" stroke="#0a7c0a" stroke-width="0.6"/>
<path d="M655.31,290.96 A2.65,2.65 0 0 1 660.61,290.96 Z" fill="#0a7c0a"/>
<circle cx="659.4" cy="291.28" r="2.65" fill="#fff" stroke="#0a7c0a" stroke-width="0.6"/>
<path d="M656.75,291.28 A2.65,2.65 0 0 1 662.05,291.28 Z" fill="#0a7c0a"/>
<circle cx="660.85" cy="291.6" r="2.65" fill="#fff" stroke="#0a7c0a" stroke-width="0.6"/>
<path d="M658.2,291.6 A2.65,2.65 0 0 1 663.5,291.6 Z" fill="#0a7c0a"/>
<circle cx="662.3" cy="291.93" r="2.65" fill="#fff" stroke="#0a7c0a" stroke-width="0.6"/>
<path d="M659.65,291.93 A2.65,2.65 0 0 1 664.95,291.93 Z" fill="#0a7c0a"/>
<circle cx="663.75" cy="292.25" r="2.65" fill="#fff" stroke="#0a7c0a" stroke-width="0.6"/>
<path d="M661.1,292.25 A2.65,2.65 0 0 1 666.4,292.25 Z" fill="#0a7c0a"/>
<circle cx="665.2" cy="292.57" r="2.65" fill="#fff" stroke="#0a7c0a" stroke-width="0.6"/>
<path d="M662.55,292.57 A2.65,2.65 0 0 1 667.85,292.57 Z" fill="#0a7c0a"/>
<circle cx="666.66" cy="292.9" r="2.65" fill="#fff" stroke="#0a7c0a" stroke-width="0.6"/>
<path d="M664.01,292.9 A2.65,2.65 0 0 1 669.31,292.9 Z" fill="#0a7c0a"/>
<circle cx="668.11" cy="293.22" r="2.65" fill="#fff" stroke="#0a7c0a" stroke-width="0.6"/>
<path d="M665.46,293.22 A2.65,2.65 0 0 1 670.76,293.22 Z" fill="#0a7c0a"/>
<circle cx="669.57" cy="293.55" r="2.65" fill="#fff" stroke="#0a7c0a" stroke-width="0.6"/>
<path d="M666.92,293.55 A2.65,2.65 0 0 1 672.22,293.55 Z" fill="#0a7c0a"/>
<circle cx="671.04" cy="293.87" r="2.65" fill="#fff" stroke="#0a7c0a" stroke-width="0.6"/>
<path d="M668.39,293.87 A2.65,2.65 0 0 1 673.69,293.87 Z" fill="#0a7c0a"/>
<circle cx="672.5" cy="294.2" r="2.65" fill="#fff" stroke="#0a7c0a" stroke-width="0.6"/>
<path d="M669.85,294.2 A2.65,2.65 0 0 1 675.15,294.2 Z" fill="#0a7c0a"/>
<text x="674.3" y="221.6" font-size="8.9" text-anchor="end" font-weight="bold" fill="#000">80.41%</text>
<text x="674.8" y="281.4" font-size="8.9" text-anchor="end" font-weight="bold" fill="#000">33.38%</text>
<circle cx="522.8" cy="307.8" r="2.9" fill="url(#pg)"/>
<circle cx="522.8" cy="319.9" r="2.8" fill="#fff" stroke="#1f8f1f" stroke-width="0.8"/>
<path d="M520,319.9 A2.8,2.8 0 0 1 525.6,319.9 Z" fill="#1f8f1f"/>
<text x="536.2" y="311.2" font-size="9.6" text-anchor="start" font-weight="bold" fill="#000">P3HT:<tspan font-style="italic">E</tspan>-2IFC-F</text>
<text x="536.2" y="323.3" font-size="9.6" text-anchor="start" font-weight="bold" fill="#000">P3HT:<tspan font-style="italic">Z</tspan>-2IFC-F</text>
</svg></body></html>
